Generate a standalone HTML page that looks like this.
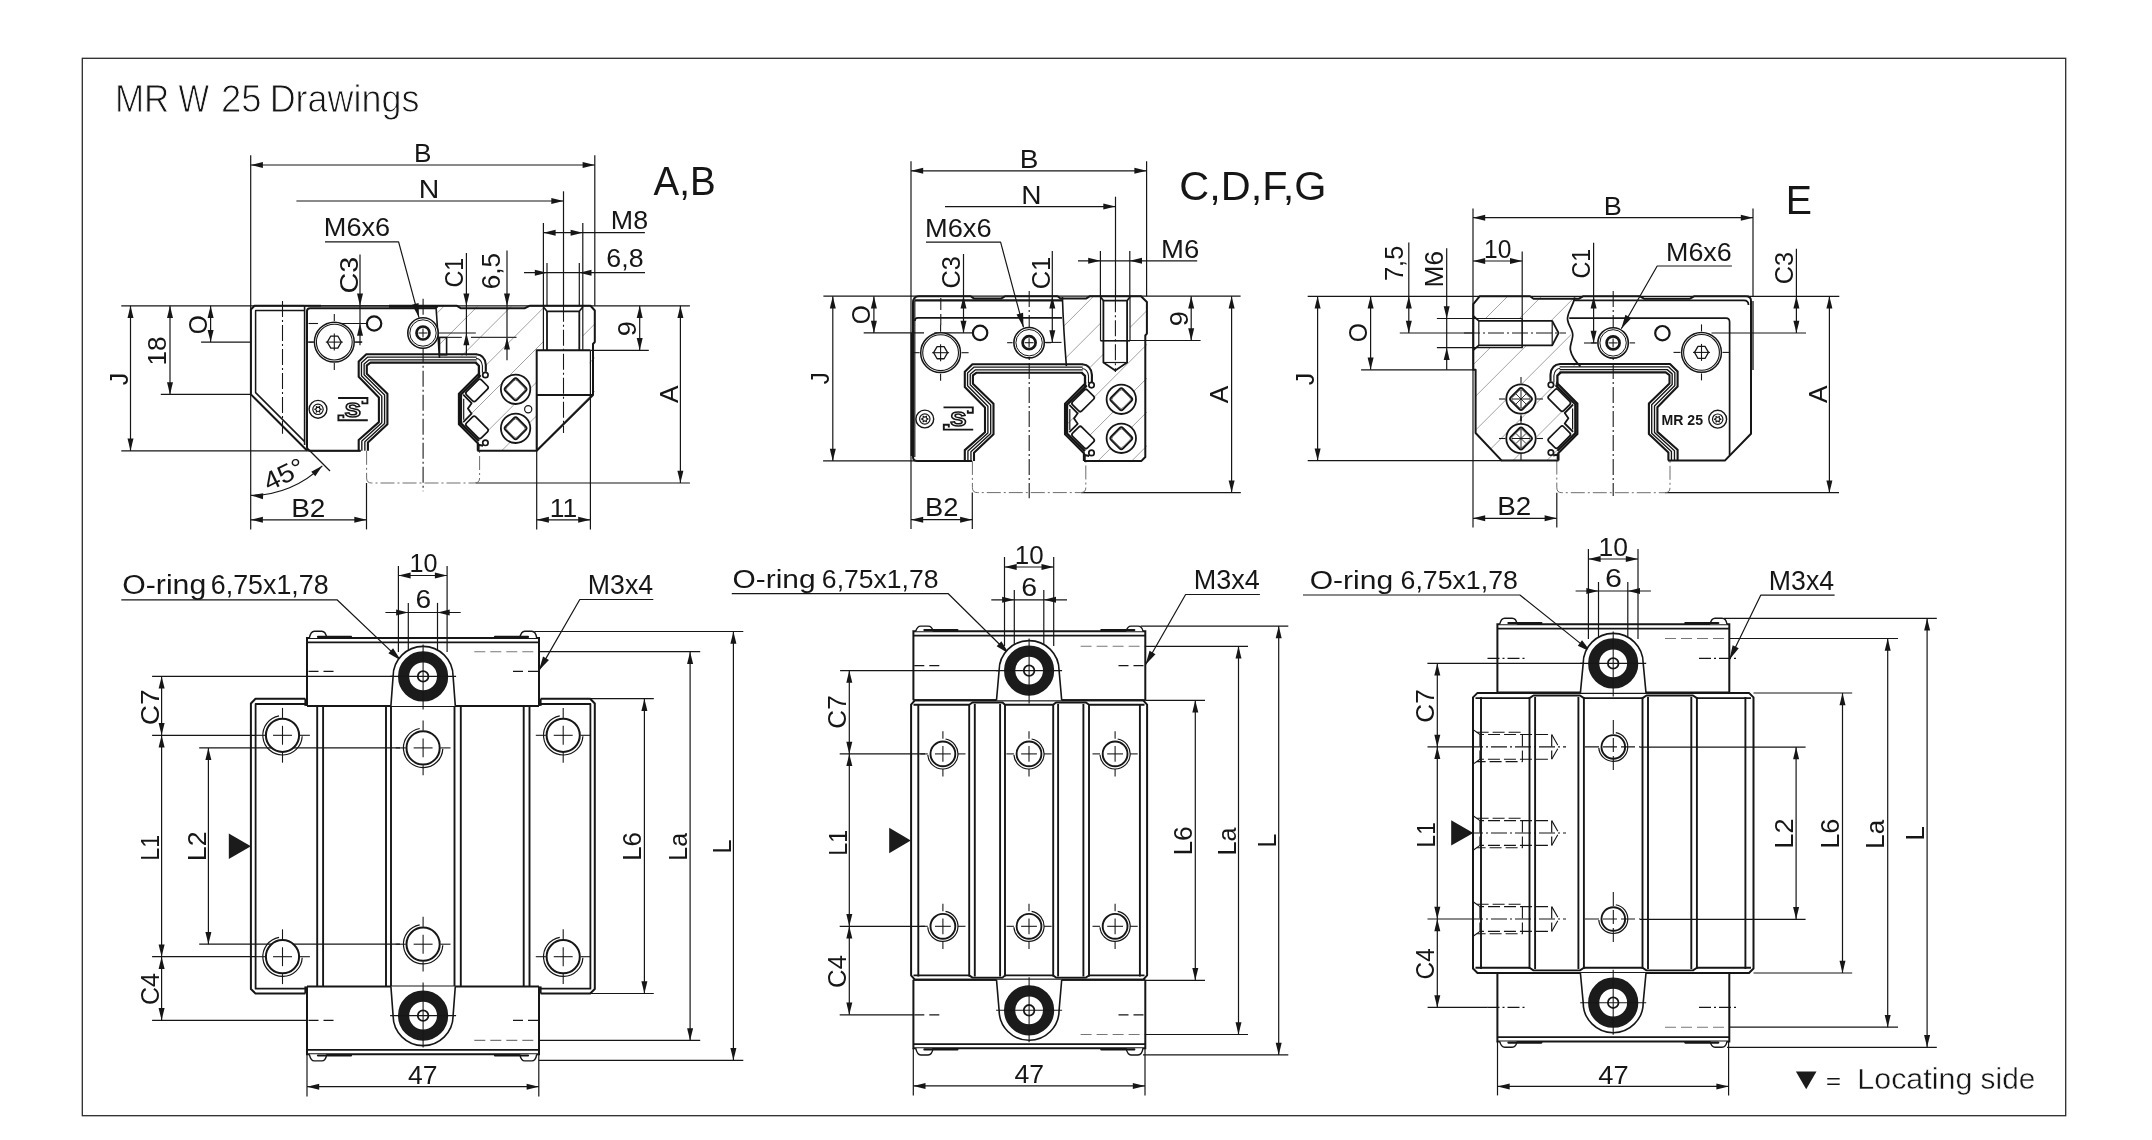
<!DOCTYPE html>
<html lang="en"><head><meta charset="utf-8"><title>MR W 25 Drawings</title>
<style>
html,body{margin:0;padding:0;background:#fff}
svg{display:block;filter:grayscale(1)}
text{font-family:"Liberation Sans",sans-serif;white-space:pre}
</style></head><body>
<svg width="2152" height="1140" viewBox="0 0 2152 1140">
<rect width="2152" height="1140" fill="#fff"/>
<rect x="82.3" y="58.3" width="1983.4" height="1057.4" fill="none" stroke="#2b2b2b" stroke-width="1.3"/>
<text y="111.9" font-size="37.95" fill="#161616" stroke="#fff" stroke-width="0.9"><tspan x="114.9" textLength="54.38" lengthAdjust="spacingAndGlyphs">MR</tspan> <tspan x="178.52" textLength="30.53" lengthAdjust="spacingAndGlyphs">W</tspan> <tspan x="221.08" textLength="40.57" lengthAdjust="spacingAndGlyphs">25</tspan> <tspan x="269.63" textLength="149.75" lengthAdjust="spacingAndGlyphs">Drawings</tspan></text>
<g id="d1">
<clipPath id="h1"><path d="M437 306.5 L594.8 306.5 L594.8 395 L536.7 450.8 L478 450.8 L478 443 L459 424 L459 394 L479 374 L486 366 L484 358 L441 355 Z"/></clipPath>
<g clip-path="url(#h1)" stroke="#8a8a8a" stroke-width="0.8">
<line x1="299.4" y1="450.8" x2="444.4" y2="305.8"/>
<line x1="333.1" y1="450.8" x2="478.1" y2="305.8"/>
<line x1="366.8" y1="450.8" x2="511.8" y2="305.8"/>
<line x1="400.5" y1="450.8" x2="545.5" y2="305.8"/>
<line x1="434.2" y1="450.8" x2="579.2" y2="305.8"/>
<line x1="467.9" y1="450.8" x2="612.9" y2="305.8"/>
<line x1="501.6" y1="450.8" x2="646.6" y2="305.8"/>
<line x1="535.3" y1="450.8" x2="680.3" y2="305.8"/>
<line x1="569" y1="450.8" x2="714" y2="305.8"/>
<line x1="602.7" y1="450.8" x2="747.7" y2="305.8"/>
<line x1="636.4" y1="450.8" x2="781.4" y2="305.8"/>
<line x1="670.1" y1="450.8" x2="815.1" y2="305.8"/>
<line x1="703.8" y1="450.8" x2="848.8" y2="305.8"/>
<line x1="737.5" y1="450.8" x2="882.5" y2="305.8"/>
</g>
<rect x="543.4" y="306.5" width="39.4" height="43.8" fill="#fff" stroke="none" stroke-width="0"/>
<rect x="537.5" y="351" width="52" height="43.5" fill="#fff" stroke="none" stroke-width="0"/>
<path d="M537.5 394.5 L591 394.5 L537.5 448 Z" fill="#fff" stroke="none" stroke-width="0" stroke-linejoin="round"/>
<line x1="121.3" y1="305.8" x2="689.9" y2="305.8" stroke="#161616" stroke-width="1.2"/>
<line x1="121.3" y1="450.8" x2="360.7" y2="450.8" stroke="#161616" stroke-width="1.2"/>
<line x1="250.7" y1="155.3" x2="250.7" y2="529.4" stroke="#161616" stroke-width="1.2"/>
<line x1="594.8" y1="155.3" x2="594.8" y2="305.8" stroke="#161616" stroke-width="1.2"/>
<line x1="250.7" y1="165" x2="594.8" y2="165" stroke="#161616" stroke-width="1.2"/>
<path d="M250.7 165 L262.9 162 L262.9 168 Z" fill="#161616"/>
<path d="M594.8 165 L582.6 168 L582.6 162 Z" fill="#161616"/>
<text transform="translate(413.91 162) scale(0.9916 1)" font-size="26.39" fill="#161616">B</text>
<line x1="296.4" y1="201" x2="563.5" y2="201" stroke="#161616" stroke-width="1.2"/>
<path d="M563.5 201 L551.3 204 L551.3 198 Z" fill="#161616"/>
<line x1="563.5" y1="191.3" x2="563.5" y2="305.8" stroke="#161616" stroke-width="1.2"/>
<text transform="translate(418.72 198.3) scale(1.0779 1)" font-size="26.39" fill="#161616">N</text>
<line x1="543.4" y1="223" x2="543.4" y2="305.8" stroke="#161616" stroke-width="1.2"/>
<line x1="582.8" y1="223" x2="582.8" y2="305.8" stroke="#161616" stroke-width="1.2"/>
<line x1="543.4" y1="232.7" x2="644.9" y2="232.7" stroke="#161616" stroke-width="1.2"/>
<path d="M543.4 232.7 L555.6 229.7 L555.6 235.7 Z" fill="#161616"/>
<path d="M582.8 232.7 L570.6 235.7 L570.6 229.7 Z" fill="#161616"/>
<text transform="translate(610.85 229.4) scale(1.0165 1)" font-size="26.39" fill="#161616">M8</text>
<line x1="547" y1="263" x2="547" y2="305.8" stroke="#161616" stroke-width="1.2"/>
<line x1="579.3" y1="263" x2="579.3" y2="305.8" stroke="#161616" stroke-width="1.2"/>
<line x1="524" y1="272.7" x2="645" y2="272.7" stroke="#161616" stroke-width="1.2"/>
<path d="M547 272.7 L534.8 275.7 L534.8 269.7 Z" fill="#161616"/>
<path d="M579.3 272.7 L591.5 269.7 L591.5 275.7 Z" fill="#161616"/>
<text transform="translate(606.36 266.6) scale(1.0144 1)" font-size="26.39" fill="#161616">6,8</text>
<line x1="360" y1="254.5" x2="360" y2="345.3" stroke="#161616" stroke-width="1.2"/>
<path d="M360 305.8 L357 293.6 L363 293.6 Z" fill="#161616"/>
<path d="M360 323.5 L363 335.7 L357 335.7 Z" fill="#161616"/>
<line x1="308.5" y1="323.5" x2="318" y2="323.5" stroke="#161616" stroke-width="1.08"/>
<line x1="327.5" y1="323.5" x2="366.5" y2="323.5" stroke="#161616" stroke-width="1.08"/>
<line x1="308.5" y1="342.1" x2="318" y2="342.1" stroke="#161616" stroke-width="1.08"/>
<line x1="353" y1="342.1" x2="362" y2="342.1" stroke="#161616" stroke-width="1.08"/>
<text transform="translate(357.5 293.43) rotate(-90) scale(1.0872 1)" font-size="26.39" fill="#161616">C3</text>
<line x1="466.4" y1="253" x2="466.4" y2="355.6" stroke="#161616" stroke-width="1.2"/>
<path d="M466.4 305.8 L463.4 293.6 L469.4 293.6 Z" fill="#161616"/>
<path d="M466.4 333 L469.4 345.2 L463.4 345.2 Z" fill="#161616"/>
<line x1="437" y1="333" x2="475.8" y2="333" stroke="#161616" stroke-width="1.08"/>
<text transform="translate(463 287.57) rotate(-90) scale(0.8863 1)" font-size="26.39" fill="#161616">C1</text>
<line x1="507" y1="250.4" x2="507" y2="360.3" stroke="#161616" stroke-width="1.2"/>
<path d="M507 305.8 L504 293.6 L510 293.6 Z" fill="#161616"/>
<path d="M507 337.4 L510 349.6 L504 349.6 Z" fill="#161616"/>
<line x1="447.2" y1="337.4" x2="461.8" y2="337.4" stroke="#333" stroke-width="1.2"/>
<line x1="470.9" y1="337.4" x2="516.5" y2="337.4" stroke="#333" stroke-width="1.2"/>
<text transform="translate(500 289.31) rotate(-90) scale(0.9911 1)" font-size="26.39" fill="#161616">6,5</text>
<text transform="translate(323.83 235.7) scale(1.0279 1)" font-size="26.39" fill="#161616">M6x6</text>
<path d="M325 241.8 L398.6 241.8 L419 317.6" fill="none" stroke="#161616" stroke-width="1.2" stroke-linejoin="round"/>
<path d="M419 317.6 L412.03 304.77 L418.59 303 Z" fill="#161616"/>
<line x1="130.5" y1="305.8" x2="130.5" y2="450.8" stroke="#161616" stroke-width="1.2"/>
<path d="M130.5 305.8 L133.5 318 L127.5 318 Z" fill="#161616"/>
<path d="M130.5 450.8 L127.5 438.6 L133.5 438.6 Z" fill="#161616"/>
<text transform="translate(127.6 385.17) rotate(-90) scale(0.9462 1)" font-size="26.39" fill="#161616">J</text>
<line x1="170" y1="305.8" x2="170" y2="394.4" stroke="#161616" stroke-width="1.2"/>
<path d="M170 305.8 L173 318 L167 318 Z" fill="#161616"/>
<path d="M170 394.4 L167 382.2 L173 382.2 Z" fill="#161616"/>
<line x1="160.8" y1="394.4" x2="250.9" y2="394.4" stroke="#161616" stroke-width="1.2"/>
<text transform="translate(166.4 365.47) rotate(-90) scale(0.9940 1)" font-size="26.39" fill="#161616">18</text>
<line x1="210.6" y1="305.8" x2="210.6" y2="342.1" stroke="#161616" stroke-width="1.2"/>
<path d="M210.6 305.8 L213.6 318 L207.6 318 Z" fill="#161616"/>
<path d="M210.6 342.1 L207.6 329.9 L213.6 329.9 Z" fill="#161616"/>
<line x1="201.1" y1="342.1" x2="250.9" y2="342.1" stroke="#161616" stroke-width="1.2"/>
<text transform="translate(207.4 334.3) rotate(-90) scale(0.9294 1)" font-size="26.39" fill="#161616">O</text>
<line x1="639.7" y1="305.8" x2="639.7" y2="350.3" stroke="#161616" stroke-width="1.2"/>
<path d="M639.7 305.8 L642.7 318 L636.7 318 Z" fill="#161616"/>
<path d="M639.7 350.3 L636.7 338.1 L642.7 338.1 Z" fill="#161616"/>
<line x1="590.4" y1="350.3" x2="648.8" y2="350.3" stroke="#161616" stroke-width="1.2"/>
<text transform="translate(636.2 336.22) rotate(-90) scale(1.0268 1)" font-size="26.39" fill="#161616">9</text>
<line x1="680.4" y1="305.8" x2="680.4" y2="483" stroke="#161616" stroke-width="1.2"/>
<path d="M680.4 305.8 L683.4 318 L677.4 318 Z" fill="#161616"/>
<path d="M680.4 483 L677.4 470.8 L683.4 470.8 Z" fill="#161616"/>
<line x1="475.6" y1="483" x2="689.9" y2="483" stroke="#161616" stroke-width="1.2"/>
<text transform="translate(678 403) rotate(-90) scale(0.9915 1)" font-size="26.39" fill="#161616">A</text>
<line x1="366.5" y1="483" x2="366.5" y2="529.4" stroke="#161616" stroke-width="1.2"/>
<line x1="250.7" y1="519.8" x2="366.5" y2="519.8" stroke="#161616" stroke-width="1.2"/>
<path d="M250.7 519.8 L262.9 516.8 L262.9 522.8 Z" fill="#161616"/>
<path d="M366.5 519.8 L354.3 522.8 L354.3 516.8 Z" fill="#161616"/>
<text transform="translate(291.16 517.1) scale(1.0624 1)" font-size="26.39" fill="#161616">B2</text>
<line x1="536.7" y1="395" x2="536.7" y2="529.4" stroke="#161616" stroke-width="1.2"/>
<line x1="590.4" y1="395" x2="590.4" y2="529.4" stroke="#161616" stroke-width="1.2"/>
<line x1="536.7" y1="519.8" x2="590.4" y2="519.8" stroke="#161616" stroke-width="1.2"/>
<path d="M536.7 519.8 L548.9 516.8 L548.9 522.8 Z" fill="#161616"/>
<path d="M590.4 519.8 L578.2 522.8 L578.2 516.8 Z" fill="#161616"/>
<text transform="translate(549.82 517.1) scale(1.0022 1)" font-size="26.39" fill="#161616">11</text>
<path d="M250.9 495.4 A101 101 0 0 0 322.32 465.82" fill="none" stroke="#161616" stroke-width="1.2" stroke-linejoin="round"/>
<path d="M250.9 495.4 L263.26 493.14 L262.9 499.13 Z" fill="#161616"/>
<path d="M322.32 465.82 L315.29 476.23 L311.26 471.78 Z" fill="#161616"/>
<line x1="307" y1="448" x2="330" y2="471" stroke="#161616" stroke-width="1.2"/>
<text transform="translate(283.5 474.5) rotate(-26) scale(1.0812 1) translate(-19.08 8.9)" font-size="25.87" fill="#161616">45°</text>
<text transform="translate(653.5 194.7) scale(0.9660 1)" font-size="39.88" fill="#161616">A,B</text>
<line x1="423.1" y1="298.7" x2="423.1" y2="491.3" stroke="#161616" stroke-width="1.08" stroke-dasharray="16 3 2 3"/>
<line x1="282.5" y1="301" x2="282.5" y2="433.8" stroke="#161616" stroke-width="1.08" stroke-dasharray="16 3 2 3"/>
<line x1="563.5" y1="305.8" x2="563.5" y2="433" stroke="#161616" stroke-width="1.08" stroke-dasharray="16 3 2 3"/>
<path d="M366.6 450.8 L366.6 478 Q366.6 483 371.6 483 L474.6 483 Q479.6 483 479.6 478 L479.6 450.8" fill="none" stroke="#666" stroke-width="0.96" stroke-linejoin="round" stroke-dasharray="14 3 2 3"/>
<path d="M304.6 305.8 L254.5 305.8 L250.9 309.5 L250.9 394.4 L307 450.5" fill="none" stroke="#161616" stroke-width="2" stroke-linejoin="round"/>
<path d="M304.6 310.5 L255.6 310.5 L255.6 392.6 L304.6 441.6" fill="none" stroke="#161616" stroke-width="1.5" stroke-linejoin="round"/>
<line x1="304.6" y1="305.8" x2="304.6" y2="445" stroke="#161616" stroke-width="1.6"/>
<path d="M436.5 308.2 L310 308.2 Q307 308.2 307 311 L307 447 Q307 450.8 311 450.8 L360.7 450.8" fill="none" stroke="#161616" stroke-width="2" stroke-linejoin="round"/>
<line x1="304.6" y1="305.8" x2="321" y2="305.8" stroke="#161616" stroke-width="2"/>
<line x1="321" y1="305.8" x2="389" y2="305.8" stroke="#161616" stroke-width="1.2"/>
<line x1="389" y1="306.2" x2="438" y2="306.2" stroke="#161616" stroke-width="3"/>
<path d="M438 305.8 L457 305.8 L461 308.3 L524.5 308.3 L529.5 305.8 L590.5 305.8 L594.8 310.5 L594.8 342 L593 344 L593 395 L536.7 450.8 L477.4 450.8" fill="none" stroke="#161616" stroke-width="2" stroke-linejoin="round"/>
<line x1="590.4" y1="350.3" x2="590.4" y2="395" stroke="#161616" stroke-width="1.2"/>
<path d="M436 306.5 Q437.5 330 439.5 358" fill="none" stroke="#161616" stroke-width="1.6" stroke-linejoin="round"/>
<rect x="439.5" y="337.4" width="7.1" height="17.4" fill="none" stroke="#161616" stroke-width="1.6"/>
<line x1="543.4" y1="305.8" x2="543.4" y2="350.3" stroke="#161616" stroke-width="1.2"/>
<line x1="582.8" y1="305.8" x2="582.8" y2="350.3" stroke="#161616" stroke-width="1.2"/>
<line x1="547" y1="311.3" x2="547" y2="350.3" stroke="#161616" stroke-width="1.8"/>
<line x1="579.3" y1="311.3" x2="579.3" y2="350.3" stroke="#161616" stroke-width="1.8"/>
<path d="M543.4 307 L547 311.3 L579.3 311.3 L582.8 307" fill="none" stroke="#161616" stroke-width="1.7" stroke-linejoin="round"/>
<path d="M590.4 350.3 L536.7 350.3 L536.7 450.8" fill="none" stroke="#161616" stroke-width="2" stroke-linejoin="round"/>
<line x1="536.7" y1="395" x2="593" y2="395" stroke="#161616" stroke-width="2"/>
<path d="M476.6 354.2 L366.3 354.2 L358.7 361.6 L358.7 376.8 L378.9 397.4 L378.9 422.1 L358.7 440 L358.7 450.8" fill="none" stroke="#161616" stroke-width="2.1" stroke-linejoin="round"/>
<path d="M476.6 357.06 L367.73 357.06 L361.45 362.86 L361.45 375.75 L381.79 396.14 L381.79 422.81 L361.83 440.88 L361.83 450.8" fill="none" stroke="#161616" stroke-width="1.35" stroke-linejoin="round"/>
<path d="M476.6 359.83 L369.11 359.83 L364.13 364.08 L364.13 374.72 L384.6 394.92 L384.6 423.51 L364.86 441.74 L364.86 450.8" fill="none" stroke="#161616" stroke-width="1.35" stroke-linejoin="round"/>
<path d="M476.6 362.6 L370.5 362.6 L366.8 365.3 L366.8 373.7 L387.4 393.7 L387.4 424.2 L367.9 442.6 L367.9 450.8" fill="none" stroke="#161616" stroke-width="2.1" stroke-linejoin="round"/>
<path d="M475.7 362.6 L478.9 365.8 L478.9 373.7 L459 393.7 L459 424.2 L477.9 443.2 L477.9 450.8" fill="none" stroke="#161616" stroke-width="2.3" stroke-linejoin="round"/>
<path d="M480.7 375.3 L461 394.5 L461 423.4 L478.9 441" fill="none" stroke="#161616" stroke-width="2.2" stroke-linejoin="round"/>
<path d="M463.7 398.8 L463.7 419.8" fill="none" stroke="#161616" stroke-width="1.2" stroke-linejoin="round"/>
<path d="M476.1 354.2 Q485.1 354.8 485.8 364.8 L485.8 371.8" fill="none" stroke="#161616" stroke-width="2.1" stroke-linejoin="round"/>
<path d="M476.1 358.4 Q481.5 358.8 482.4 365.8 L482.4 372.8" fill="none" stroke="#161616" stroke-width="1.1" stroke-linejoin="round"/>
<circle cx="485.4" cy="375" r="2.7" fill="none" stroke="#161616" stroke-width="1.7"/>
<circle cx="485.4" cy="442.8" r="2.7" fill="none" stroke="#161616" stroke-width="1.7"/>
<line x1="479.1" y1="371.8" x2="479.1" y2="377.8" stroke="#161616" stroke-width="2"/>
<path d="M478.6 449.8 L478.6 444.8 L483.1 445.8" fill="none" stroke="#161616" stroke-width="2" stroke-linejoin="round"/>
<rect x="-10.5" y="-6.5" width="21" height="13" fill="#fff" stroke="#161616" stroke-width="1.7" rx="2.2" transform="translate(477 390.4) rotate(-45)"/>
<rect x="-10.5" y="-6.5" width="21" height="13" fill="#fff" stroke="#161616" stroke-width="1.7" rx="2.2" transform="translate(477 427.4) rotate(45)"/>
<path d="M463.2 394.7 L471.6 403.2 L467.9 408.4 L471.6 413.7 L463.2 422.1" fill="none" stroke="#161616" stroke-width="1.8" stroke-linejoin="round"/>
<circle cx="334.3" cy="342.1" r="19.9" fill="#fff" stroke="#161616" stroke-width="1.5"/>
<circle cx="334.3" cy="342.1" r="17.9" fill="none" stroke="#161616" stroke-width="1.1"/>
<path d="M341.3 342.1 L337.8 348.16 L330.8 348.16 L327.3 342.1 L330.8 336.04 L337.8 336.04 Z" fill="none" stroke="#161616" stroke-width="1.3" stroke-linejoin="round"/>
<line x1="334.3" y1="314.1" x2="334.3" y2="321.1" stroke="#161616" stroke-width="1.08"/>
<line x1="334.3" y1="363.1" x2="334.3" y2="370.1" stroke="#161616" stroke-width="1.08"/>
<line x1="306.3" y1="342.1" x2="313.3" y2="342.1" stroke="#161616" stroke-width="1.08"/>
<line x1="355.3" y1="342.1" x2="362.3" y2="342.1" stroke="#161616" stroke-width="1.08"/>
<line x1="334.3" y1="333.6" x2="334.3" y2="350.6" stroke="#161616" stroke-width="1.08"/>
<line x1="325.8" y1="342.1" x2="342.8" y2="342.1" stroke="#161616" stroke-width="1.08"/>
<circle cx="374.1" cy="323.5" r="7.2" fill="#fff" stroke="#161616" stroke-width="2.2"/>
<circle cx="423" cy="333" r="15.2" fill="#fff" stroke="#161616" stroke-width="1.6"/>
<circle cx="423" cy="333" r="13.2" fill="none" stroke="#161616" stroke-width="1"/>
<circle cx="423" cy="333" r="6.5" fill="none" stroke="#161616" stroke-width="2.7"/>
<line x1="418.5" y1="333" x2="427.5" y2="333" stroke="#161616" stroke-width="1.08"/>
<line x1="423" y1="328.5" x2="423" y2="337.5" stroke="#161616" stroke-width="1.08"/>
<circle cx="318" cy="409.3" r="8.9" fill="#fff" stroke="#161616" stroke-width="1.4"/>
<circle cx="318" cy="409.3" r="5.2" fill="none" stroke="#161616" stroke-width="1.2"/>
<path d="M321.3 409.3 L319.56 410.2 L319.65 412.16 L318 411.1 L316.35 412.16 L316.44 410.2 L314.7 409.3 L316.44 408.4 L316.35 406.44 L318 407.5 L319.65 406.44 L319.56 408.4 Z" fill="none" stroke="#161616" stroke-width="1.08" stroke-linejoin="round"/>
<path d="M338.1 398 L367.4 398 L367.4 403.4 L362.4 403.4 L362.4 400.8" fill="none" stroke="#161616" stroke-width="1.9" stroke-linejoin="miter"/>
<path d="M367.8 420.2 L338.4 420.2 L338.4 415.4 L343.4 415.4 L343.4 418.2" fill="none" stroke="#161616" stroke-width="1.9" stroke-linejoin="miter"/>
<text transform="translate(344.73 416.6) scale(1.1578 1)" font-size="20.93" font-weight="bold" fill="#fff" stroke="#161616" stroke-width="1.5">S</text>
<circle cx="515.6" cy="389.3" r="14.7" fill="#fff" stroke="#161616" stroke-width="1.8"/>
<rect x="-8.4" y="-8.4" width="16.8" height="16.8" fill="none" stroke="#161616" stroke-width="1.9" rx="2.6" transform="translate(515.6 389.3) rotate(45)"/>
<rect x="-7.2" y="-7.2" width="14.4" height="14.4" fill="none" stroke="#444" stroke-width="0.7" rx="2.2" transform="translate(515.6 389.3) rotate(45)"/>
<circle cx="515.6" cy="428.3" r="14.7" fill="#fff" stroke="#161616" stroke-width="1.8"/>
<rect x="-8.4" y="-8.4" width="16.8" height="16.8" fill="none" stroke="#161616" stroke-width="1.9" rx="2.6" transform="translate(515.6 428.3) rotate(45)"/>
<rect x="-7.2" y="-7.2" width="14.4" height="14.4" fill="none" stroke="#444" stroke-width="0.7" rx="2.2" transform="translate(515.6 428.3) rotate(45)"/>
<circle cx="528.2" cy="409.2" r="3.6" fill="#fff" stroke="#161616" stroke-width="1.2"/>
</g>
<g id="d2">
<clipPath id="h2"><path d="M1062.5 297 L1146.9 297 L1146.9 460.9 L1084 460.9 L1084 453 L1065.1 434 L1065.1 404 L1085 384 L1092 376 L1090 368 L1066.4 366 Z"/></clipPath>
<g clip-path="url(#h2)" stroke="#8a8a8a" stroke-width="0.8">
<line x1="895.2" y1="460.9" x2="1059.9" y2="296.2"/>
<line x1="929" y1="460.9" x2="1093.7" y2="296.2"/>
<line x1="962.8" y1="460.9" x2="1127.5" y2="296.2"/>
<line x1="996.6" y1="460.9" x2="1161.3" y2="296.2"/>
<line x1="1030.4" y1="460.9" x2="1195.1" y2="296.2"/>
<line x1="1064.2" y1="460.9" x2="1228.9" y2="296.2"/>
<line x1="1098" y1="460.9" x2="1262.7" y2="296.2"/>
<line x1="1131.8" y1="460.9" x2="1296.5" y2="296.2"/>
<line x1="1165.6" y1="460.9" x2="1330.3" y2="296.2"/>
<line x1="1199.4" y1="460.9" x2="1364.1" y2="296.2"/>
<line x1="1233.2" y1="460.9" x2="1397.9" y2="296.2"/>
<line x1="1267" y1="460.9" x2="1431.7" y2="296.2"/>
<line x1="1300.8" y1="460.9" x2="1465.5" y2="296.2"/>
</g>
<path d="M1100.5 297 L1130 297 L1130 340.8 L1127.1 340.8 L1127.1 362.5 L1115.3 370.4 L1103.4 362.5 L1103.4 340.8 L1100.5 340.8 Z" fill="#fff" stroke="none" stroke-width="0" stroke-linejoin="round"/>
<line x1="823.4" y1="296.2" x2="1240.6" y2="296.2" stroke="#161616" stroke-width="1.2"/>
<line x1="823.1" y1="460.9" x2="972" y2="460.9" stroke="#161616" stroke-width="1.2"/>
<line x1="911" y1="161.3" x2="911" y2="528.9" stroke="#161616" stroke-width="1.2"/>
<line x1="1146.6" y1="161.3" x2="1146.6" y2="296.2" stroke="#161616" stroke-width="1.2"/>
<line x1="911" y1="170.8" x2="1146.6" y2="170.8" stroke="#161616" stroke-width="1.2"/>
<path d="M911 170.8 L923.2 167.8 L923.2 173.8 Z" fill="#161616"/>
<path d="M1146.6 170.8 L1134.4 173.8 L1134.4 167.8 Z" fill="#161616"/>
<text transform="translate(1019.76 168.3) scale(1.0624 1)" font-size="26.39" fill="#161616">B</text>
<line x1="945" y1="206.6" x2="1115.5" y2="206.6" stroke="#161616" stroke-width="1.2"/>
<path d="M1115.5 206.6 L1103.3 209.6 L1103.3 203.6 Z" fill="#161616"/>
<line x1="1115.5" y1="196.7" x2="1115.5" y2="296.2" stroke="#161616" stroke-width="1.2"/>
<text transform="translate(1021.25 204.2) scale(1.0644 1)" font-size="26.39" fill="#161616">N</text>
<text transform="translate(925.02 237.3) scale(1.0312 1)" font-size="26.39" fill="#161616">M6x6</text>
<path d="M926 242.2 L1000.6 242.2 L1023.5 327.4" fill="none" stroke="#161616" stroke-width="1.2" stroke-linejoin="round"/>
<path d="M1023.5 327.4 L1016.53 314.57 L1023.1 312.8 Z" fill="#161616"/>
<line x1="963.5" y1="254" x2="963.5" y2="332.9" stroke="#161616" stroke-width="1.2"/>
<path d="M963.5 296.2 L966.5 308.4 L960.5 308.4 Z" fill="#161616"/>
<path d="M963.5 332.9 L960.5 320.7 L966.5 320.7 Z" fill="#161616"/>
<line x1="934.3" y1="332.9" x2="972.2" y2="332.9" stroke="#161616" stroke-width="1.08"/>
<text transform="translate(960.3 288.47) rotate(-90) scale(0.9593 1)" font-size="26.39" fill="#161616">C3</text>
<line x1="1052.3" y1="250.9" x2="1052.3" y2="342.4" stroke="#161616" stroke-width="1.2"/>
<path d="M1052.3 296.2 L1055.3 308.4 L1049.3 308.4 Z" fill="#161616"/>
<path d="M1052.3 342.4 L1049.3 330.2 L1055.3 330.2 Z" fill="#161616"/>
<line x1="1044.9" y1="342.4" x2="1061.5" y2="342.4" stroke="#161616" stroke-width="1.08"/>
<text transform="translate(1049.6 289.27) rotate(-90) scale(0.9634 1)" font-size="26.39" fill="#161616">C1</text>
<line x1="1100.4" y1="250.9" x2="1100.4" y2="296.2" stroke="#161616" stroke-width="1.2"/>
<line x1="1129.8" y1="250.9" x2="1129.8" y2="296.2" stroke="#161616" stroke-width="1.2"/>
<line x1="1078" y1="260.8" x2="1197.2" y2="260.8" stroke="#161616" stroke-width="1.2"/>
<path d="M1100.4 260.8 L1088.2 263.8 L1088.2 257.8 Z" fill="#161616"/>
<path d="M1129.8 260.8 L1142 257.8 L1142 263.8 Z" fill="#161616"/>
<text transform="translate(1161 257.9) scale(1.0425 1)" font-size="26.39" fill="#161616">M6</text>
<line x1="832.8" y1="296.2" x2="832.8" y2="460.9" stroke="#161616" stroke-width="1.2"/>
<path d="M832.8 296.2 L835.8 308.4 L829.8 308.4 Z" fill="#161616"/>
<path d="M832.8 460.9 L829.8 448.7 L835.8 448.7 Z" fill="#161616"/>
<text transform="translate(829 384.36) rotate(-90) scale(0.9186 1)" font-size="26.39" fill="#161616">J</text>
<line x1="873.9" y1="296.2" x2="873.9" y2="332.9" stroke="#161616" stroke-width="1.2"/>
<path d="M873.9 296.2 L876.9 308.4 L870.9 308.4 Z" fill="#161616"/>
<path d="M873.9 332.9 L870.9 320.7 L876.9 320.7 Z" fill="#161616"/>
<line x1="863.7" y1="332.9" x2="924" y2="332.9" stroke="#161616" stroke-width="1.2"/>
<text transform="translate(869.5 324.3) rotate(-90) scale(0.9294 1)" font-size="26.39" fill="#161616">O</text>
<line x1="1191.2" y1="296.2" x2="1191.2" y2="340.5" stroke="#161616" stroke-width="1.2"/>
<path d="M1191.2 296.2 L1194.2 308.4 L1188.2 308.4 Z" fill="#161616"/>
<path d="M1191.2 340.5 L1188.2 328.3 L1194.2 328.3 Z" fill="#161616"/>
<line x1="1127" y1="340.5" x2="1200.6" y2="340.5" stroke="#161616" stroke-width="1.2"/>
<text transform="translate(1188 326.22) rotate(-90) scale(1.0268 1)" font-size="26.39" fill="#161616">9</text>
<line x1="1231.6" y1="296.2" x2="1231.6" y2="492.6" stroke="#161616" stroke-width="1.2"/>
<path d="M1231.6 296.2 L1234.6 308.4 L1228.6 308.4 Z" fill="#161616"/>
<path d="M1231.6 492.6 L1228.6 480.4 L1234.6 480.4 Z" fill="#161616"/>
<line x1="1081.1" y1="492.6" x2="1240.8" y2="492.6" stroke="#161616" stroke-width="1.2"/>
<text transform="translate(1228.3 403.2) rotate(-90) scale(0.9915 1)" font-size="26.39" fill="#161616">A</text>
<line x1="972.3" y1="492.6" x2="972.3" y2="528.9" stroke="#161616" stroke-width="1.2"/>
<line x1="911" y1="519.7" x2="972.3" y2="519.7" stroke="#161616" stroke-width="1.2"/>
<path d="M911 519.7 L923.2 516.7 L923.2 522.7 Z" fill="#161616"/>
<path d="M972.3 519.7 L960.1 522.7 L960.1 516.7 Z" fill="#161616"/>
<text transform="translate(925.02 516.1) scale(1.0347 1)" font-size="26.39" fill="#161616">B2</text>
<text transform="translate(1179.33 200.2) scale(1.0124 1)" font-size="40.92" fill="#161616">C,D,F,G</text>
<line x1="1029.2" y1="291" x2="1029.2" y2="498.3" stroke="#161616" stroke-width="1.08" stroke-dasharray="16 3 2 3"/>
<line x1="1115.4" y1="296.2" x2="1115.4" y2="372" stroke="#161616" stroke-width="1.08" stroke-dasharray="16 3 2 3"/>
<line x1="940.8" y1="298" x2="940.8" y2="325" stroke="#161616" stroke-width="1.08" stroke-dasharray="12 4"/>
<path d="M972.4 460.9 L972.4 487.6 Q972.4 492.6 977.4 492.6 L1080.8 492.6 Q1085.8 492.6 1085.8 487.6 L1085.8 460.9" fill="none" stroke="#666" stroke-width="0.96" stroke-linejoin="round" stroke-dasharray="14 3 2 3"/>
<path d="M913 457 L913 303 Q913 296.2 919 296.2 L970.6 296.2 L973.8 298.4 L1001.4 298.4 L1005.4 296.2 L1057.5 296.2 L1060.7 298.6 L1086 298.6 L1090 296.2 L1141 296.2 L1146.9 302 L1146.9 333.7 L1145.3 335.5 L1145.3 457 L1141.5 460.9 L1084 460.9" fill="none" stroke="#161616" stroke-width="2" stroke-linejoin="round"/>
<line x1="911.3" y1="333" x2="911.3" y2="456" stroke="#161616" stroke-width="1.4"/>
<path d="M913 457 Q913 460.9 917 460.9 L972 460.9" fill="none" stroke="#161616" stroke-width="2" stroke-linejoin="round"/>
<line x1="914.8" y1="300.3" x2="1062" y2="300.3" stroke="#161616" stroke-width="2.2"/>
<path d="M1062 317.9 L918 317.9 Q914.8 317.9 914.8 321" fill="none" stroke="#161616" stroke-width="1.7" stroke-linejoin="round"/>
<line x1="914.8" y1="300.3" x2="914.8" y2="457" stroke="#161616" stroke-width="1.2"/>
<path d="M1062.4 297 Q1063.5 330 1066.4 366.1" fill="none" stroke="#161616" stroke-width="1.6" stroke-linejoin="round"/>
<line x1="1100.5" y1="296.2" x2="1100.5" y2="340.8" stroke="#161616" stroke-width="1.2"/>
<line x1="1130" y1="296.2" x2="1130" y2="340.8" stroke="#161616" stroke-width="1.2"/>
<line x1="1100.5" y1="340.8" x2="1130" y2="340.8" stroke="#161616" stroke-width="1.6"/>
<path d="M1100.5 297 L1103.4 300.6 L1127.1 300.6 L1130 297" fill="none" stroke="#161616" stroke-width="1.7" stroke-linejoin="round"/>
<path d="M1103.4 300.6 L1103.4 362.5 L1115.3 370.4 L1127.1 362.5 L1127.1 300.6" fill="none" stroke="#161616" stroke-width="1.8" stroke-linejoin="round"/>
<line x1="1103.4" y1="362.5" x2="1127.1" y2="362.5" stroke="#161616" stroke-width="1.2"/>
<path d="M1082.7 364.3 L972.4 364.3 L964.8 371.7 L964.8 386.9 L985 407.5 L985 432.2 L964.8 450.1 L964.8 460.9" fill="none" stroke="#161616" stroke-width="2.1" stroke-linejoin="round"/>
<path d="M1082.7 367.16 L973.83 367.16 L967.55 372.96 L967.55 385.85 L987.89 406.24 L987.89 432.91 L967.93 450.98 L967.93 460.9" fill="none" stroke="#161616" stroke-width="1.35" stroke-linejoin="round"/>
<path d="M1082.7 369.93 L975.21 369.93 L970.23 374.18 L970.23 384.82 L990.7 405.02 L990.7 433.61 L970.96 451.84 L970.96 460.9" fill="none" stroke="#161616" stroke-width="1.35" stroke-linejoin="round"/>
<path d="M1082.7 372.7 L976.6 372.7 L972.9 375.4 L972.9 383.8 L993.5 403.8 L993.5 434.3 L974 452.7 L974 460.9" fill="none" stroke="#161616" stroke-width="2.1" stroke-linejoin="round"/>
<path d="M1081.8 372.7 L1085 375.9 L1085 383.8 L1065.1 403.8 L1065.1 434.3 L1084 453.3 L1084 460.9" fill="none" stroke="#161616" stroke-width="2.3" stroke-linejoin="round"/>
<path d="M1086.8 385.4 L1067.1 404.6 L1067.1 433.5 L1085 451.1" fill="none" stroke="#161616" stroke-width="2.2" stroke-linejoin="round"/>
<path d="M1069.8 408.9 L1069.8 429.9" fill="none" stroke="#161616" stroke-width="1.2" stroke-linejoin="round"/>
<path d="M1082.2 364.3 Q1091.2 364.9 1091.9 374.9 L1091.9 381.9" fill="none" stroke="#161616" stroke-width="2.1" stroke-linejoin="round"/>
<path d="M1082.2 368.5 Q1087.6 368.9 1088.5 375.9 L1088.5 382.9" fill="none" stroke="#161616" stroke-width="1.1" stroke-linejoin="round"/>
<circle cx="1091.5" cy="385.1" r="2.7" fill="none" stroke="#161616" stroke-width="1.7"/>
<circle cx="1091.5" cy="452.9" r="2.7" fill="none" stroke="#161616" stroke-width="1.7"/>
<line x1="1085.2" y1="381.9" x2="1085.2" y2="387.9" stroke="#161616" stroke-width="2"/>
<path d="M1084.7 459.9 L1084.7 454.9 L1089.2 455.9" fill="none" stroke="#161616" stroke-width="2" stroke-linejoin="round"/>
<rect x="-10.5" y="-6.5" width="21" height="13" fill="#fff" stroke="#161616" stroke-width="1.7" rx="2.2" transform="translate(1083.1 400.5) rotate(-45)"/>
<rect x="-10.5" y="-6.5" width="21" height="13" fill="#fff" stroke="#161616" stroke-width="1.7" rx="2.2" transform="translate(1083.1 437.5) rotate(45)"/>
<path d="M1069.3 404.8 L1077.7 413.3 L1074 418.5 L1077.7 423.8 L1069.3 432.2" fill="none" stroke="#161616" stroke-width="1.8" stroke-linejoin="round"/>
<circle cx="940.6" cy="352.7" r="19.9" fill="#fff" stroke="#161616" stroke-width="1.5"/>
<circle cx="940.6" cy="352.7" r="17.9" fill="none" stroke="#161616" stroke-width="1.1"/>
<path d="M947.6 352.7 L944.1 358.76 L937.1 358.76 L933.6 352.7 L937.1 346.64 L944.1 346.64 Z" fill="none" stroke="#161616" stroke-width="1.3" stroke-linejoin="round"/>
<line x1="940.6" y1="324.7" x2="940.6" y2="331.7" stroke="#161616" stroke-width="1.08"/>
<line x1="940.6" y1="373.7" x2="940.6" y2="380.7" stroke="#161616" stroke-width="1.08"/>
<line x1="912.6" y1="352.7" x2="919.6" y2="352.7" stroke="#161616" stroke-width="1.08"/>
<line x1="961.6" y1="352.7" x2="968.6" y2="352.7" stroke="#161616" stroke-width="1.08"/>
<line x1="940.6" y1="344.2" x2="940.6" y2="361.2" stroke="#161616" stroke-width="1.08"/>
<line x1="932.1" y1="352.7" x2="949.1" y2="352.7" stroke="#161616" stroke-width="1.08"/>
<circle cx="980.1" cy="332.9" r="7.2" fill="#fff" stroke="#161616" stroke-width="2.2"/>
<circle cx="1029.1" cy="342.7" r="15.2" fill="#fff" stroke="#161616" stroke-width="1.6"/>
<circle cx="1029.1" cy="342.7" r="13.2" fill="none" stroke="#161616" stroke-width="1"/>
<circle cx="1029.1" cy="342.7" r="6.5" fill="none" stroke="#161616" stroke-width="2.7"/>
<line x1="1024.6" y1="342.7" x2="1033.6" y2="342.7" stroke="#161616" stroke-width="1.08"/>
<line x1="1029.1" y1="338.2" x2="1029.1" y2="347.2" stroke="#161616" stroke-width="1.08"/>
<line x1="1007.1" y1="342.7" x2="1012.6" y2="342.7" stroke="#161616" stroke-width="1.08"/>
<line x1="1045.6" y1="342.7" x2="1051.1" y2="342.7" stroke="#161616" stroke-width="1.08"/>
<circle cx="924.8" cy="419" r="8.9" fill="#fff" stroke="#161616" stroke-width="1.4"/>
<circle cx="924.8" cy="419" r="5.2" fill="none" stroke="#161616" stroke-width="1.2"/>
<path d="M928.1 419 L926.36 419.9 L926.45 421.86 L924.8 420.8 L923.15 421.86 L923.24 419.9 L921.5 419 L923.24 418.1 L923.15 416.14 L924.8 417.2 L926.45 416.14 L926.36 418.1 Z" fill="none" stroke="#161616" stroke-width="1.08" stroke-linejoin="round"/>
<path d="M943.5 407.4 L972.8 407.4 L972.8 412.8 L967.8 412.8 L967.8 410.2" fill="none" stroke="#161616" stroke-width="1.9" stroke-linejoin="miter"/>
<path d="M973.2 429.6 L943.8 429.6 L943.8 424.8 L948.8 424.8 L948.8 427.6" fill="none" stroke="#161616" stroke-width="1.9" stroke-linejoin="miter"/>
<text transform="translate(950.13 426) scale(1.1578 1)" font-size="20.93" font-weight="bold" fill="#fff" stroke="#161616" stroke-width="1.5">S</text>
<circle cx="1121.3" cy="399.3" r="14.7" fill="#fff" stroke="#161616" stroke-width="1.8"/>
<rect x="-8.4" y="-8.4" width="16.8" height="16.8" fill="none" stroke="#161616" stroke-width="1.9" rx="2.6" transform="translate(1121.3 399.3) rotate(45)"/>
<rect x="-7.2" y="-7.2" width="14.4" height="14.4" fill="none" stroke="#444" stroke-width="0.7" rx="2.2" transform="translate(1121.3 399.3) rotate(45)"/>
<circle cx="1121.3" cy="438.3" r="14.7" fill="#fff" stroke="#161616" stroke-width="1.8"/>
<rect x="-8.4" y="-8.4" width="16.8" height="16.8" fill="none" stroke="#161616" stroke-width="1.9" rx="2.6" transform="translate(1121.3 438.3) rotate(45)"/>
<rect x="-7.2" y="-7.2" width="14.4" height="14.4" fill="none" stroke="#444" stroke-width="0.7" rx="2.2" transform="translate(1121.3 438.3) rotate(45)"/>
</g>
<g id="d3">
<clipPath id="h3"><path d="M1473.3 304.2 L1479.6 297 L1574.4 297 L1570 321.6 L1572.8 353.2 L1579 366 L1552 368 L1550 376 L1558 386 L1577 404 L1577 434 L1558 453 L1558 460.6 L1501.7 460.6 L1475.6 433 L1475.6 369.8 L1473.3 369.8 Z"/></clipPath>
<g clip-path="url(#h3)" stroke="#8a8a8a" stroke-width="0.8">
<line x1="1309.5" y1="460.6" x2="1473.8" y2="296.3"/>
<line x1="1343.4" y1="460.6" x2="1507.7" y2="296.3"/>
<line x1="1377.3" y1="460.6" x2="1541.6" y2="296.3"/>
<line x1="1411.2" y1="460.6" x2="1575.5" y2="296.3"/>
<line x1="1445.1" y1="460.6" x2="1609.4" y2="296.3"/>
<line x1="1479" y1="460.6" x2="1643.3" y2="296.3"/>
<line x1="1512.9" y1="460.6" x2="1677.2" y2="296.3"/>
<line x1="1546.8" y1="460.6" x2="1711.1" y2="296.3"/>
<line x1="1580.7" y1="460.6" x2="1745" y2="296.3"/>
<line x1="1614.6" y1="460.6" x2="1778.9" y2="296.3"/>
<line x1="1648.5" y1="460.6" x2="1812.8" y2="296.3"/>
<line x1="1682.4" y1="460.6" x2="1846.7" y2="296.3"/>
<line x1="1716.3" y1="460.6" x2="1880.6" y2="296.3"/>
</g>
<path d="M1473.3 318.5 L1522.2 318.5 L1522.2 320.9 L1552.2 320.9 L1558.6 333 L1552.2 345.4 L1522.2 345.4 L1522.2 347.7 L1473.3 347.7 Z" fill="#fff" stroke="none" stroke-width="0" stroke-linejoin="round"/>
<line x1="1307.7" y1="296.3" x2="1839.3" y2="296.3" stroke="#161616" stroke-width="1.2"/>
<line x1="1307.7" y1="460.6" x2="1501.7" y2="460.6" stroke="#161616" stroke-width="1.2"/>
<line x1="1317.6" y1="296.3" x2="1317.6" y2="460.6" stroke="#161616" stroke-width="1.2"/>
<path d="M1317.6 296.3 L1320.6 308.5 L1314.6 308.5 Z" fill="#161616"/>
<path d="M1317.6 460.6 L1314.6 448.4 L1320.6 448.4 Z" fill="#161616"/>
<text transform="translate(1313.7 385.17) rotate(-90) scale(0.9462 1)" font-size="26.39" fill="#161616">J</text>
<line x1="1370.6" y1="296.3" x2="1370.6" y2="369.8" stroke="#161616" stroke-width="1.2"/>
<path d="M1370.6 296.3 L1373.6 308.5 L1367.6 308.5 Z" fill="#161616"/>
<path d="M1370.6 369.8 L1367.6 357.6 L1373.6 357.6 Z" fill="#161616"/>
<line x1="1361.1" y1="369.8" x2="1473.3" y2="369.8" stroke="#161616" stroke-width="1.2"/>
<text transform="translate(1367.4 342.31) rotate(-90) scale(0.9349 1)" font-size="26.39" fill="#161616">O</text>
<line x1="1408.8" y1="242.4" x2="1408.8" y2="333" stroke="#161616" stroke-width="1.2"/>
<path d="M1408.8 296.3 L1411.8 308.5 L1405.8 308.5 Z" fill="#161616"/>
<path d="M1408.8 333 L1405.8 320.8 L1411.8 320.8 Z" fill="#161616"/>
<line x1="1399.8" y1="333" x2="1473" y2="333" stroke="#161616" stroke-width="1.2"/>
<text transform="translate(1403 281.08) rotate(-90) scale(0.9677 1)" font-size="26.39" fill="#161616">7,5</text>
<line x1="1446.7" y1="248.2" x2="1446.7" y2="369.8" stroke="#161616" stroke-width="1.2"/>
<path d="M1446.7 318.5 L1443.7 306.3 L1449.7 306.3 Z" fill="#161616"/>
<path d="M1446.7 347.7 L1449.7 359.9 L1443.7 359.9 Z" fill="#161616"/>
<line x1="1436.9" y1="318.5" x2="1473" y2="318.5" stroke="#161616" stroke-width="1.2"/>
<line x1="1436.9" y1="347.7" x2="1473" y2="347.7" stroke="#161616" stroke-width="1.2"/>
<text transform="translate(1443.2 287.4) rotate(-90) scale(0.9945 1)" font-size="26.39" fill="#161616">M6</text>
<line x1="1473" y1="208.4" x2="1473" y2="527.5" stroke="#161616" stroke-width="1.2"/>
<line x1="1753" y1="208.4" x2="1753" y2="296.3" stroke="#161616" stroke-width="1.2"/>
<line x1="1473" y1="217.7" x2="1753" y2="217.7" stroke="#161616" stroke-width="1.2"/>
<path d="M1473 217.7 L1485.2 214.7 L1485.2 220.7 Z" fill="#161616"/>
<path d="M1753 217.7 L1740.8 220.7 L1740.8 214.7 Z" fill="#161616"/>
<text transform="translate(1603.83 215.2) scale(1.0270 1)" font-size="26.39" fill="#161616">B</text>
<line x1="1522.2" y1="251.4" x2="1522.2" y2="347.7" stroke="#161616" stroke-width="1.2"/>
<line x1="1473" y1="261" x2="1522.2" y2="261" stroke="#161616" stroke-width="1.2"/>
<path d="M1473 261 L1485.2 258 L1485.2 264 Z" fill="#161616"/>
<path d="M1522.2 261 L1510 264 L1510 258 Z" fill="#161616"/>
<text transform="translate(1484.06 257.6) scale(0.9307 1)" font-size="26.39" fill="#161616">10</text>
<line x1="1593.6" y1="242.7" x2="1593.6" y2="343" stroke="#161616" stroke-width="1.2"/>
<path d="M1593.6 296.3 L1596.6 308.5 L1590.6 308.5 Z" fill="#161616"/>
<path d="M1593.6 343 L1590.6 330.8 L1596.6 330.8 Z" fill="#161616"/>
<line x1="1584" y1="343" x2="1597" y2="343" stroke="#161616" stroke-width="1.08"/>
<text transform="translate(1590.2 278.57) rotate(-90) scale(0.8863 1)" font-size="26.39" fill="#161616">C1</text>
<text transform="translate(1666.05 261.1) scale(1.0181 1)" font-size="26.39" fill="#161616">M6x6</text>
<path d="M1731.9 266 L1657.2 266 L1621.3 328.8" fill="none" stroke="#161616" stroke-width="1.2" stroke-linejoin="round"/>
<path d="M1621.3 328.8 L1625.4 314.78 L1631.3 318.16 Z" fill="#161616"/>
<line x1="1796.4" y1="248.7" x2="1796.4" y2="333" stroke="#161616" stroke-width="1.2"/>
<path d="M1796.4 296.3 L1799.4 308.5 L1793.4 308.5 Z" fill="#161616"/>
<path d="M1796.4 333 L1793.4 320.8 L1799.4 320.8 Z" fill="#161616"/>
<line x1="1711.5" y1="333" x2="1806" y2="333" stroke="#161616" stroke-width="1.08"/>
<text transform="translate(1793 284.27) rotate(-90) scale(0.9625 1)" font-size="26.39" fill="#161616">C3</text>
<line x1="1829.4" y1="296.3" x2="1829.4" y2="492.7" stroke="#161616" stroke-width="1.2"/>
<path d="M1829.4 296.3 L1832.4 308.5 L1826.4 308.5 Z" fill="#161616"/>
<path d="M1829.4 492.7 L1826.4 480.5 L1832.4 480.5 Z" fill="#161616"/>
<line x1="1665" y1="492.7" x2="1839" y2="492.7" stroke="#161616" stroke-width="1.2"/>
<text transform="translate(1826.7 403) rotate(-90) scale(0.9915 1)" font-size="26.39" fill="#161616">A</text>
<line x1="1556.8" y1="492.7" x2="1556.8" y2="527.5" stroke="#161616" stroke-width="1.2"/>
<line x1="1473" y1="518.3" x2="1556.8" y2="518.3" stroke="#161616" stroke-width="1.2"/>
<path d="M1473 518.3 L1485.2 515.3 L1485.2 521.3 Z" fill="#161616"/>
<path d="M1556.8 518.3 L1544.6 521.3 L1544.6 515.3 Z" fill="#161616"/>
<text transform="translate(1497.27 514.7) scale(1.0555 1)" font-size="26.39" fill="#161616">B2</text>
<text transform="translate(1785.86 214.1) scale(0.9596 1)" font-size="40.92" fill="#161616">E</text>
<line x1="1613.2" y1="291" x2="1613.2" y2="495.9" stroke="#161616" stroke-width="1.08" stroke-dasharray="16 3 2 3"/>
<line x1="1464" y1="333" x2="1566" y2="333" stroke="#161616" stroke-width="1.08" stroke-dasharray="16 3 2 3"/>
<path d="M1556.8 460.6 L1556.8 487.7 Q1556.8 492.7 1561.8 492.7 L1665 492.7 Q1670 492.7 1670 487.7 L1670 460.6" fill="none" stroke="#666" stroke-width="0.96" stroke-linejoin="round" stroke-dasharray="14 3 2 3"/>
<path d="M1558.6 460.6 L1501.7 460.6 L1475.6 433 L1475.6 369.8 L1473.3 369.8 L1473.3 304.2 L1479.6 296.3 L1530 296.3 L1533.5 298.7 L1579 298.7 L1583 296.3 L1640 296.3 L1644 298.7 L1690 298.7 L1694 296.3 L1746 296.3 Q1751 296.3 1751 301 L1751 433.8 L1724.8 460.6 L1668 460.6" fill="none" stroke="#161616" stroke-width="2" stroke-linejoin="round"/>
<line x1="1753" y1="301" x2="1753" y2="370" stroke="#161616" stroke-width="1.3"/>
<path d="M1574 300.3 L1744 300.3 Q1748.5 300.3 1748.5 305" fill="none" stroke="#161616" stroke-width="1.7" stroke-linejoin="round"/>
<path d="M1569.2 318.1 L1726 318.1 Q1729.6 318.1 1729.6 322 L1729.6 455" fill="none" stroke="#161616" stroke-width="1.7" stroke-linejoin="round"/>
<path d="M1574.8 297.5 C1572.5 308 1566.5 313 1567.6 320 C1568.7 327 1573.5 330 1572.7 336 C1572 342 1569.5 346 1570.4 350 C1571.3 355 1575 361 1580.5 366.5" fill="none" stroke="#161616" stroke-width="1.7" stroke-linejoin="round"/>
<path d="M1473.3 318.5 L1522.2 318.5 L1522.2 347.7 L1473.3 347.7" fill="none" stroke="#161616" stroke-width="1.2" stroke-linejoin="round"/>
<path d="M1473.3 316 L1478.8 320.9 L1552.2 320.9 L1558.6 333 L1552.2 345.4 L1478.8 345.4 L1473.3 350" fill="none" stroke="#161616" stroke-width="1.8" stroke-linejoin="round"/>
<line x1="1478.8" y1="320.9" x2="1478.8" y2="345.4" stroke="#161616" stroke-width="1.2"/>
<line x1="1552.2" y1="320.9" x2="1552.2" y2="345.4" stroke="#161616" stroke-width="1.2"/>
<path d="M1559.7 364 L1670 364 L1677.6 371.4 L1677.6 386.6 L1657.4 407.2 L1657.4 431.9 L1677.6 449.8 L1677.6 460.6" fill="none" stroke="#161616" stroke-width="2.1" stroke-linejoin="round"/>
<path d="M1559.7 366.86 L1668.57 366.86 L1674.85 372.66 L1674.85 385.55 L1654.51 405.94 L1654.51 432.61 L1674.47 450.68 L1674.47 460.6" fill="none" stroke="#161616" stroke-width="1.35" stroke-linejoin="round"/>
<path d="M1559.7 369.63 L1667.19 369.63 L1672.17 373.88 L1672.17 384.52 L1651.71 404.72 L1651.71 433.31 L1671.44 451.54 L1671.44 460.6" fill="none" stroke="#161616" stroke-width="1.35" stroke-linejoin="round"/>
<path d="M1559.7 372.4 L1665.8 372.4 L1669.5 375.1 L1669.5 383.5 L1648.9 403.5 L1648.9 434 L1668.4 452.4 L1668.4 460.6" fill="none" stroke="#161616" stroke-width="2.1" stroke-linejoin="round"/>
<path d="M1560.6 372.4 L1557.4 375.6 L1557.4 383.5 L1577.3 403.5 L1577.3 434 L1558.4 453 L1558.4 460.6" fill="none" stroke="#161616" stroke-width="2.3" stroke-linejoin="round"/>
<path d="M1555.6 385.1 L1575.3 404.3 L1575.3 433.2 L1557.4 450.8" fill="none" stroke="#161616" stroke-width="2.2" stroke-linejoin="round"/>
<path d="M1572.6 408.6 L1572.6 429.6" fill="none" stroke="#161616" stroke-width="1.2" stroke-linejoin="round"/>
<path d="M1560.2 364 Q1551.2 364.6 1550.5 374.6 L1550.5 381.6" fill="none" stroke="#161616" stroke-width="2.1" stroke-linejoin="round"/>
<path d="M1560.2 368.2 Q1554.8 368.6 1553.9 375.6 L1553.9 382.6" fill="none" stroke="#161616" stroke-width="1.1" stroke-linejoin="round"/>
<circle cx="1550.9" cy="384.8" r="2.7" fill="none" stroke="#161616" stroke-width="1.7"/>
<circle cx="1550.9" cy="452.6" r="2.7" fill="none" stroke="#161616" stroke-width="1.7"/>
<line x1="1557.2" y1="381.6" x2="1557.2" y2="387.6" stroke="#161616" stroke-width="2"/>
<path d="M1557.7 459.6 L1557.7 454.6 L1553.2 455.6" fill="none" stroke="#161616" stroke-width="2" stroke-linejoin="round"/>
<rect x="-10.5" y="-6.5" width="21" height="13" fill="#fff" stroke="#161616" stroke-width="1.7" rx="2.2" transform="translate(1559.3 400.2) rotate(45)"/>
<rect x="-10.5" y="-6.5" width="21" height="13" fill="#fff" stroke="#161616" stroke-width="1.7" rx="2.2" transform="translate(1559.3 437.2) rotate(-45)"/>
<path d="M1573.1 404.5 L1564.7 413 L1568.4 418.2 L1564.7 423.5 L1573.1 431.9" fill="none" stroke="#161616" stroke-width="1.8" stroke-linejoin="round"/>
<circle cx="1701.5" cy="352.4" r="19.9" fill="#fff" stroke="#161616" stroke-width="1.5"/>
<circle cx="1701.5" cy="352.4" r="17.9" fill="none" stroke="#161616" stroke-width="1.1"/>
<path d="M1708.5 352.4 L1705 358.46 L1698 358.46 L1694.5 352.4 L1698 346.34 L1705 346.34 Z" fill="none" stroke="#161616" stroke-width="1.3" stroke-linejoin="round"/>
<line x1="1701.5" y1="324.4" x2="1701.5" y2="331.4" stroke="#161616" stroke-width="1.08"/>
<line x1="1701.5" y1="373.4" x2="1701.5" y2="380.4" stroke="#161616" stroke-width="1.08"/>
<line x1="1673.5" y1="352.4" x2="1680.5" y2="352.4" stroke="#161616" stroke-width="1.08"/>
<line x1="1722.5" y1="352.4" x2="1729.5" y2="352.4" stroke="#161616" stroke-width="1.08"/>
<line x1="1701.5" y1="343.9" x2="1701.5" y2="360.9" stroke="#161616" stroke-width="1.08"/>
<line x1="1693" y1="352.4" x2="1710" y2="352.4" stroke="#161616" stroke-width="1.08"/>
<circle cx="1662.4" cy="333.2" r="7.2" fill="#fff" stroke="#161616" stroke-width="2.2"/>
<circle cx="1613.1" cy="342.9" r="15.2" fill="#fff" stroke="#161616" stroke-width="1.6"/>
<circle cx="1613.1" cy="342.9" r="13.2" fill="none" stroke="#161616" stroke-width="1"/>
<circle cx="1613.1" cy="342.9" r="6.5" fill="none" stroke="#161616" stroke-width="2.7"/>
<line x1="1608.6" y1="342.9" x2="1617.6" y2="342.9" stroke="#161616" stroke-width="1.08"/>
<line x1="1613.1" y1="338.4" x2="1613.1" y2="347.4" stroke="#161616" stroke-width="1.08"/>
<line x1="1591.1" y1="342.9" x2="1596.6" y2="342.9" stroke="#161616" stroke-width="1.08"/>
<line x1="1629.6" y1="342.9" x2="1635.1" y2="342.9" stroke="#161616" stroke-width="1.08"/>
<circle cx="1717.7" cy="419.2" r="8.9" fill="#fff" stroke="#161616" stroke-width="1.4"/>
<circle cx="1717.7" cy="419.2" r="5.2" fill="none" stroke="#161616" stroke-width="1.2"/>
<path d="M1721 419.2 L1719.26 420.1 L1719.35 422.06 L1717.7 421 L1716.05 422.06 L1716.14 420.1 L1714.4 419.2 L1716.14 418.3 L1716.05 416.34 L1717.7 417.4 L1719.35 416.34 L1719.26 418.3 Z" fill="none" stroke="#161616" stroke-width="1.08" stroke-linejoin="round"/>
<text transform="translate(1661.48 425) scale(0.9244 1)" font-size="15.27" fill="#161616" font-weight="bold">MR 25</text>
<circle cx="1521" cy="399" r="14.7" fill="#fff" stroke="#161616" stroke-width="1.8"/>
<rect x="-8.4" y="-8.4" width="16.8" height="16.8" fill="none" stroke="#161616" stroke-width="1.9" rx="2.6" transform="translate(1521 399) rotate(45)"/>
<rect x="-7.2" y="-7.2" width="14.4" height="14.4" fill="none" stroke="#444" stroke-width="0.7" rx="2.2" transform="translate(1521 399) rotate(45)"/>
<line x1="1499" y1="399" x2="1505.5" y2="399" stroke="#161616" stroke-width="1.08"/>
<line x1="1536.5" y1="399" x2="1543" y2="399" stroke="#161616" stroke-width="1.08"/>
<line x1="1521" y1="377" x2="1521" y2="383.5" stroke="#161616" stroke-width="1.08"/>
<line x1="1521" y1="414.5" x2="1521" y2="421" stroke="#161616" stroke-width="1.08"/>
<line x1="1512" y1="399" x2="1530" y2="399" stroke="#161616" stroke-width="0.96"/>
<line x1="1521" y1="390" x2="1521" y2="408" stroke="#161616" stroke-width="0.96"/>
<line x1="1516" y1="394" x2="1526" y2="404" stroke="#161616" stroke-width="0.84"/>
<line x1="1516" y1="404" x2="1526" y2="394" stroke="#161616" stroke-width="0.84"/>
<circle cx="1521" cy="438.5" r="14.7" fill="#fff" stroke="#161616" stroke-width="1.8"/>
<rect x="-8.4" y="-8.4" width="16.8" height="16.8" fill="none" stroke="#161616" stroke-width="1.9" rx="2.6" transform="translate(1521 438.5) rotate(45)"/>
<rect x="-7.2" y="-7.2" width="14.4" height="14.4" fill="none" stroke="#444" stroke-width="0.7" rx="2.2" transform="translate(1521 438.5) rotate(45)"/>
<line x1="1499" y1="438.5" x2="1505.5" y2="438.5" stroke="#161616" stroke-width="1.08"/>
<line x1="1536.5" y1="438.5" x2="1543" y2="438.5" stroke="#161616" stroke-width="1.08"/>
<line x1="1521" y1="416.5" x2="1521" y2="423" stroke="#161616" stroke-width="1.08"/>
<line x1="1521" y1="454" x2="1521" y2="460.5" stroke="#161616" stroke-width="1.08"/>
<line x1="1512" y1="438.5" x2="1530" y2="438.5" stroke="#161616" stroke-width="0.96"/>
<line x1="1521" y1="429.5" x2="1521" y2="447.5" stroke="#161616" stroke-width="0.96"/>
<line x1="1516" y1="433.5" x2="1526" y2="443.5" stroke="#161616" stroke-width="0.84"/>
<line x1="1516" y1="443.5" x2="1526" y2="433.5" stroke="#161616" stroke-width="0.84"/>
<line x1="1521" y1="421" x2="1521" y2="416" stroke="#161616" stroke-width="1.08"/>
</g>
<g id="d4">
<line x1="398.4" y1="566" x2="398.4" y2="651.9" stroke="#161616" stroke-width="1.2"/>
<line x1="447.1" y1="566" x2="447.1" y2="651.9" stroke="#161616" stroke-width="1.2"/>
<line x1="398.4" y1="575.5" x2="447.1" y2="575.5" stroke="#161616" stroke-width="1.2"/>
<path d="M398.4 575.5 L410.6 572.5 L410.6 578.5 Z" fill="#161616"/>
<path d="M447.1 575.5 L434.9 578.5 L434.9 572.5 Z" fill="#161616"/>
<text transform="translate(409.51 572) scale(0.9535 1)" font-size="26.39" fill="#161616">10</text>
<line x1="408.3" y1="602.9" x2="408.3" y2="651.9" stroke="#161616" stroke-width="1.2"/>
<line x1="437.5" y1="602.9" x2="437.5" y2="651.9" stroke="#161616" stroke-width="1.2"/>
<line x1="385.4" y1="612.5" x2="460.7" y2="612.5" stroke="#161616" stroke-width="1.2"/>
<path d="M408.3 612.5 L396.1 615.5 L396.1 609.5 Z" fill="#161616"/>
<path d="M437.5 612.5 L449.7 609.5 L449.7 615.5 Z" fill="#161616"/>
<text transform="translate(415.59 608.2) scale(1.0651 1)" font-size="26.39" fill="#161616">6</text>
<text y="594.1" font-size="26.98" fill="#161616"><tspan x="122.34" textLength="83.87" lengthAdjust="spacingAndGlyphs">O-ring</tspan> <tspan x="210.86" textLength="117.72" lengthAdjust="spacingAndGlyphs">6,75x1,78</tspan></text>
<path d="M121.3 599.8 L337 599.8 L401 660.6" fill="none" stroke="#161616" stroke-width="1.2" stroke-linejoin="round"/>
<path d="M401 660.6 L388.36 653.28 L393.05 648.35 Z" fill="#161616"/>
<text transform="translate(587.86 593.9) scale(0.9909 1)" font-size="26.98" fill="#161616">M3x4</text>
<path d="M653.3 599.5 L579.8 599.5 L538.9 670.6" fill="none" stroke="#161616" stroke-width="1.2" stroke-linejoin="round"/>
<path d="M538.9 670.6 L543.03 656.6 L548.93 659.99 Z" fill="#161616"/>
<line x1="152.1" y1="676.4" x2="397" y2="676.4" stroke="#161616" stroke-width="1.2"/>
<line x1="152.1" y1="735.3" x2="255" y2="735.3" stroke="#161616" stroke-width="1.2"/>
<line x1="152.1" y1="956.7" x2="255" y2="956.7" stroke="#161616" stroke-width="1.2"/>
<line x1="152.1" y1="1020.3" x2="307" y2="1020.3" stroke="#161616" stroke-width="1.2"/>
<line x1="161.6" y1="676.4" x2="161.6" y2="1020.3" stroke="#161616" stroke-width="1.2"/>
<path d="M161.6 676.4 L164.6 688.6 L158.6 688.6 Z" fill="#161616"/>
<path d="M161.6 735.3 L158.6 723.1 L164.6 723.1 Z" fill="#161616"/>
<path d="M161.6 735.3 L164.6 747.5 L158.6 747.5 Z" fill="#161616"/>
<path d="M161.6 956.7 L158.6 944.5 L164.6 944.5 Z" fill="#161616"/>
<path d="M161.6 956.7 L164.6 968.9 L158.6 968.9 Z" fill="#161616"/>
<path d="M161.6 1020.3 L158.6 1008.1 L164.6 1008.1 Z" fill="#161616"/>
<text transform="translate(158.5 725.21) rotate(-90) scale(1.0662 1)" font-size="26.39" fill="#161616">C7</text>
<text transform="translate(159.2 860.87) rotate(-90) scale(0.8871 1)" font-size="26.39" fill="#161616">L1</text>
<text transform="translate(158.5 1004.95) rotate(-90) scale(0.9473 1)" font-size="26.39" fill="#161616">C4</text>
<line x1="199.2" y1="747.9" x2="400" y2="747.9" stroke="#161616" stroke-width="1.2"/>
<line x1="199.2" y1="944.2" x2="400" y2="944.2" stroke="#161616" stroke-width="1.2"/>
<line x1="208.4" y1="747.9" x2="208.4" y2="944.2" stroke="#161616" stroke-width="1.2"/>
<path d="M208.4 747.9 L211.4 760.1 L205.4 760.1 Z" fill="#161616"/>
<path d="M208.4 944.2 L205.4 932 L211.4 932 Z" fill="#161616"/>
<text transform="translate(205.8 861.13) rotate(-90) scale(1.0066 1)" font-size="26.39" fill="#161616">L2</text>
<path d="M228.8 833.4 L228.8 859 L250.9 846.2 Z" fill="#1b1b1b"/>
<line x1="589.6" y1="698.7" x2="653.8" y2="698.7" stroke="#161616" stroke-width="1.2"/>
<line x1="589.6" y1="993.5" x2="653.8" y2="993.5" stroke="#161616" stroke-width="1.2"/>
<line x1="644.4" y1="698.7" x2="644.4" y2="993.5" stroke="#161616" stroke-width="1.2"/>
<path d="M644.4 698.7 L647.4 710.9 L641.4 710.9 Z" fill="#161616"/>
<path d="M644.4 993.5 L641.4 981.3 L647.4 981.3 Z" fill="#161616"/>
<text transform="translate(640.8 860.77) rotate(-90) scale(0.9785 1)" font-size="26.39" fill="#161616">L6</text>
<line x1="474.3" y1="651.7" x2="539" y2="651.7" stroke="#777" stroke-width="1.08" stroke-dasharray="11 5"/>
<line x1="539" y1="651.7" x2="700.2" y2="651.7" stroke="#161616" stroke-width="1.2"/>
<line x1="474.3" y1="1040.4" x2="539" y2="1040.4" stroke="#777" stroke-width="1.08" stroke-dasharray="11 5"/>
<line x1="539" y1="1040.4" x2="700.2" y2="1040.4" stroke="#161616" stroke-width="1.2"/>
<line x1="690.1" y1="651.7" x2="690.1" y2="1040.4" stroke="#161616" stroke-width="1.2"/>
<path d="M690.1 651.7 L693.1 663.9 L687.1 663.9 Z" fill="#161616"/>
<path d="M690.1 1040.4 L687.1 1028.2 L693.1 1028.2 Z" fill="#161616"/>
<text transform="translate(687.2 860.69) rotate(-90) scale(0.9432 1)" font-size="26.39" fill="#161616">La</text>
<line x1="534.3" y1="631.5" x2="743.3" y2="631.5" stroke="#161616" stroke-width="1.2"/>
<line x1="538.7" y1="1060.3" x2="743.3" y2="1060.3" stroke="#161616" stroke-width="1.2"/>
<line x1="733.4" y1="631.5" x2="733.4" y2="1060.3" stroke="#161616" stroke-width="1.2"/>
<path d="M733.4 631.5 L736.4 643.7 L730.4 643.7 Z" fill="#161616"/>
<path d="M733.4 1060.3 L730.4 1048.1 L736.4 1048.1 Z" fill="#161616"/>
<text transform="translate(730.5 853.69) rotate(-90) scale(0.9878 1)" font-size="26.39" fill="#161616">L</text>
<line x1="307" y1="1054" x2="307" y2="1096.6" stroke="#161616" stroke-width="1.2"/>
<line x1="538.8" y1="1054" x2="538.8" y2="1096.6" stroke="#161616" stroke-width="1.2"/>
<line x1="307" y1="1086.7" x2="538.8" y2="1086.7" stroke="#161616" stroke-width="1.2"/>
<path d="M307 1086.7 L319.2 1083.7 L319.2 1089.7 Z" fill="#161616"/>
<path d="M538.8 1086.7 L526.6 1089.7 L526.6 1083.7 Z" fill="#161616"/>
<text transform="translate(408.1 1084.2) scale(1.0056 1)" font-size="26.39" fill="#161616">47</text>
<path d="M305.4 698.8 L255.5 698.8 L250.9 703.5 L250.9 989 L255.5 993.5 L305.4 993.5" fill="none" stroke="#161616" stroke-width="2" stroke-linejoin="round"/>
<path d="M540.6 698.8 L590.2 698.8 L594.8 703.5 L594.8 989 L590.2 993.5 L540.6 993.5" fill="none" stroke="#161616" stroke-width="2" stroke-linejoin="round"/>
<path d="M305.4 704 L255.6 704 L255.6 988.7 L305.4 988.7" fill="none" stroke="#161616" stroke-width="1.8" stroke-linejoin="round"/>
<path d="M540.6 704 L590.4 704 L590.4 988.7 L540.6 988.7" fill="none" stroke="#161616" stroke-width="1.8" stroke-linejoin="round"/>
<line x1="305.4" y1="698.8" x2="305.4" y2="705.9" stroke="#161616" stroke-width="2"/>
<line x1="540.6" y1="698.8" x2="540.6" y2="705.9" stroke="#161616" stroke-width="2"/>
<line x1="305.4" y1="993.5" x2="305.4" y2="986.4" stroke="#161616" stroke-width="2"/>
<line x1="540.6" y1="993.5" x2="540.6" y2="986.4" stroke="#161616" stroke-width="2"/>
<line x1="317.2" y1="705.9" x2="317.2" y2="986.4" stroke="#161616" stroke-width="1.9"/>
<line x1="323.1" y1="705.9" x2="323.1" y2="986.4" stroke="#161616" stroke-width="1.9"/>
<line x1="386" y1="705.9" x2="386" y2="986.4" stroke="#161616" stroke-width="1.9"/>
<line x1="391" y1="705.9" x2="391" y2="986.4" stroke="#161616" stroke-width="1.9"/>
<line x1="454.5" y1="705.9" x2="454.5" y2="986.4" stroke="#161616" stroke-width="1.9"/>
<line x1="460.8" y1="705.9" x2="460.8" y2="986.4" stroke="#161616" stroke-width="1.9"/>
<line x1="523.7" y1="705.9" x2="523.7" y2="986.4" stroke="#161616" stroke-width="1.9"/>
<line x1="529.5" y1="705.9" x2="529.5" y2="986.4" stroke="#161616" stroke-width="1.9"/>
<path d="M307 705.9 L307 638.1 L539 638.1 L539 705.9" fill="none" stroke="#161616" stroke-width="2" stroke-linejoin="miter"/>
<line x1="307" y1="642.4" x2="539" y2="642.4" stroke="#161616" stroke-width="1.7"/>
<line x1="307" y1="705.9" x2="539" y2="705.9" stroke="#161616" stroke-width="2"/>
<path d="M309.3 638.1 Q310.8 631.3 314.3 631.3 L321.7 631.3 Q325.7 631.3 326.7 638.1" fill="#fff" stroke="#161616" stroke-width="1.4" stroke-linejoin="round"/>
<path d="M519.7 638.1 Q521.2 631.3 524.7 631.3 L531.7 631.3 Q535.7 631.3 536.7 638.1" fill="#fff" stroke="#161616" stroke-width="1.4" stroke-linejoin="round"/>
<line x1="318" y1="636.9" x2="351" y2="636.9" stroke="#161616" stroke-width="2.2" stroke-linecap="round"/>
<line x1="495" y1="636.9" x2="528" y2="636.9" stroke="#161616" stroke-width="2.2" stroke-linecap="round"/>
<path d="M307 986.4 L307 1054.3 L539 1054.3 L539 986.4" fill="none" stroke="#161616" stroke-width="2" stroke-linejoin="miter"/>
<line x1="307" y1="1049.8" x2="539" y2="1049.8" stroke="#161616" stroke-width="1.7"/>
<line x1="307" y1="986.4" x2="539" y2="986.4" stroke="#161616" stroke-width="2"/>
<path d="M309.3 1054.3 Q310.8 1060.9 314.3 1060.9 L321.7 1060.9 Q325.7 1060.9 326.7 1054.3" fill="#fff" stroke="#161616" stroke-width="1.4" stroke-linejoin="round"/>
<path d="M519.7 1054.3 Q521.2 1060.9 524.7 1060.9 L531.7 1060.9 Q535.7 1060.9 536.7 1054.3" fill="#fff" stroke="#161616" stroke-width="1.4" stroke-linejoin="round"/>
<line x1="318" y1="1055.5" x2="351" y2="1055.5" stroke="#161616" stroke-width="2.2" stroke-linecap="round"/>
<line x1="495" y1="1055.5" x2="528" y2="1055.5" stroke="#161616" stroke-width="2.2" stroke-linecap="round"/>
<line x1="308.5" y1="671.3" x2="333.8" y2="671.3" stroke="#161616" stroke-width="1.2" stroke-dasharray="10 5"/>
<line x1="513" y1="671.3" x2="539" y2="671.3" stroke="#161616" stroke-width="1.2" stroke-dasharray="10 5"/>
<line x1="308.5" y1="1020.3" x2="333.8" y2="1020.3" stroke="#161616" stroke-width="1.2" stroke-dasharray="10 5"/>
<line x1="513" y1="1020.3" x2="539" y2="1020.3" stroke="#161616" stroke-width="1.2" stroke-dasharray="10 5"/>
<path d="M390.9 705.9 L393.1 676.4 A30 30 0 0 1 453.1 676.4 L455.3 705.9" fill="#fff" stroke="#161616" stroke-width="1.6" stroke-linejoin="round"/>
<circle cx="423.1" cy="676.4" r="19.5" fill="none" stroke="#1b1b1b" stroke-width="11.2"/>
<circle cx="423.1" cy="676.4" r="5.3" fill="none" stroke="#161616" stroke-width="1.8"/>
<line x1="390.1" y1="676.4" x2="456.1" y2="676.4" stroke="#161616" stroke-width="1.08"/>
<line x1="423.1" y1="644.4" x2="423.1" y2="709.4" stroke="#161616" stroke-width="1.08"/>
<path d="M390.9 986.4 L393.1 1015.6 A30 30 0 0 0 453.1 1015.6 L455.3 986.4" fill="#fff" stroke="#161616" stroke-width="1.6" stroke-linejoin="round"/>
<circle cx="423.1" cy="1015.6" r="19.5" fill="none" stroke="#1b1b1b" stroke-width="11.2"/>
<circle cx="423.1" cy="1015.6" r="5.3" fill="none" stroke="#161616" stroke-width="1.8"/>
<line x1="390.1" y1="1015.6" x2="456.1" y2="1015.6" stroke="#161616" stroke-width="1.08"/>
<line x1="423.1" y1="1047.6" x2="423.1" y2="982.6" stroke="#161616" stroke-width="1.08"/>
<circle cx="282.5" cy="735.3" r="16.6" fill="#fff" stroke="#161616" stroke-width="2"/>
<path d="M279.08 715.9 A19.7 19.7 0 1 0 302.2 736.3" fill="none" stroke="#161616" stroke-width="1.2" stroke-linejoin="round"/>
<line x1="273.04" y1="735.3" x2="291.96" y2="735.3" stroke="#161616" stroke-width="1.08"/>
<line x1="282.5" y1="725.84" x2="282.5" y2="744.76" stroke="#161616" stroke-width="1.08"/>
<line x1="255.1" y1="735.3" x2="265.1" y2="735.3" stroke="#161616" stroke-width="1.08"/>
<line x1="299.9" y1="735.3" x2="309.9" y2="735.3" stroke="#161616" stroke-width="1.08"/>
<line x1="282.5" y1="707.9" x2="282.5" y2="717.9" stroke="#161616" stroke-width="1.08"/>
<line x1="282.5" y1="752.7" x2="282.5" y2="762.7" stroke="#161616" stroke-width="1.08"/>
<circle cx="563.2" cy="735.3" r="16.6" fill="#fff" stroke="#161616" stroke-width="2"/>
<path d="M559.78 715.9 A19.7 19.7 0 1 0 582.9 736.3" fill="none" stroke="#161616" stroke-width="1.2" stroke-linejoin="round"/>
<line x1="553.74" y1="735.3" x2="572.66" y2="735.3" stroke="#161616" stroke-width="1.08"/>
<line x1="563.2" y1="725.84" x2="563.2" y2="744.76" stroke="#161616" stroke-width="1.08"/>
<line x1="535.8" y1="735.3" x2="545.8" y2="735.3" stroke="#161616" stroke-width="1.08"/>
<line x1="580.6" y1="735.3" x2="590.6" y2="735.3" stroke="#161616" stroke-width="1.08"/>
<line x1="563.2" y1="707.9" x2="563.2" y2="717.9" stroke="#161616" stroke-width="1.08"/>
<line x1="563.2" y1="752.7" x2="563.2" y2="762.7" stroke="#161616" stroke-width="1.08"/>
<circle cx="282.5" cy="956.7" r="16.6" fill="#fff" stroke="#161616" stroke-width="2"/>
<path d="M279.08 937.3 A19.7 19.7 0 1 0 302.2 957.7" fill="none" stroke="#161616" stroke-width="1.2" stroke-linejoin="round"/>
<line x1="273.04" y1="956.7" x2="291.96" y2="956.7" stroke="#161616" stroke-width="1.08"/>
<line x1="282.5" y1="947.24" x2="282.5" y2="966.16" stroke="#161616" stroke-width="1.08"/>
<line x1="255.1" y1="956.7" x2="265.1" y2="956.7" stroke="#161616" stroke-width="1.08"/>
<line x1="299.9" y1="956.7" x2="309.9" y2="956.7" stroke="#161616" stroke-width="1.08"/>
<line x1="282.5" y1="929.3" x2="282.5" y2="939.3" stroke="#161616" stroke-width="1.08"/>
<line x1="282.5" y1="974.1" x2="282.5" y2="984.1" stroke="#161616" stroke-width="1.08"/>
<circle cx="563.2" cy="956.7" r="16.6" fill="#fff" stroke="#161616" stroke-width="2"/>
<path d="M559.78 937.3 A19.7 19.7 0 1 0 582.9 957.7" fill="none" stroke="#161616" stroke-width="1.2" stroke-linejoin="round"/>
<line x1="553.74" y1="956.7" x2="572.66" y2="956.7" stroke="#161616" stroke-width="1.08"/>
<line x1="563.2" y1="947.24" x2="563.2" y2="966.16" stroke="#161616" stroke-width="1.08"/>
<line x1="535.8" y1="956.7" x2="545.8" y2="956.7" stroke="#161616" stroke-width="1.08"/>
<line x1="580.6" y1="956.7" x2="590.6" y2="956.7" stroke="#161616" stroke-width="1.08"/>
<line x1="563.2" y1="929.3" x2="563.2" y2="939.3" stroke="#161616" stroke-width="1.08"/>
<line x1="563.2" y1="974.1" x2="563.2" y2="984.1" stroke="#161616" stroke-width="1.08"/>
<circle cx="423.1" cy="747.9" r="16.6" fill="#fff" stroke="#161616" stroke-width="2"/>
<path d="M419.68 728.5 A19.7 19.7 0 1 0 442.8 748.9" fill="none" stroke="#161616" stroke-width="1.2" stroke-linejoin="round"/>
<line x1="413.64" y1="747.9" x2="432.56" y2="747.9" stroke="#161616" stroke-width="1.08"/>
<line x1="423.1" y1="738.44" x2="423.1" y2="757.36" stroke="#161616" stroke-width="1.08"/>
<line x1="395.7" y1="747.9" x2="405.7" y2="747.9" stroke="#161616" stroke-width="1.08"/>
<line x1="440.5" y1="747.9" x2="450.5" y2="747.9" stroke="#161616" stroke-width="1.08"/>
<line x1="423.1" y1="720.5" x2="423.1" y2="730.5" stroke="#161616" stroke-width="1.08"/>
<line x1="423.1" y1="765.3" x2="423.1" y2="775.3" stroke="#161616" stroke-width="1.08"/>
<circle cx="423.1" cy="944.2" r="16.6" fill="#fff" stroke="#161616" stroke-width="2"/>
<path d="M419.68 924.8 A19.7 19.7 0 1 0 442.8 945.2" fill="none" stroke="#161616" stroke-width="1.2" stroke-linejoin="round"/>
<line x1="413.64" y1="944.2" x2="432.56" y2="944.2" stroke="#161616" stroke-width="1.08"/>
<line x1="423.1" y1="934.74" x2="423.1" y2="953.66" stroke="#161616" stroke-width="1.08"/>
<line x1="395.7" y1="944.2" x2="405.7" y2="944.2" stroke="#161616" stroke-width="1.08"/>
<line x1="440.5" y1="944.2" x2="450.5" y2="944.2" stroke="#161616" stroke-width="1.08"/>
<line x1="423.1" y1="916.8" x2="423.1" y2="926.8" stroke="#161616" stroke-width="1.08"/>
<line x1="423.1" y1="961.6" x2="423.1" y2="971.6" stroke="#161616" stroke-width="1.08"/>
</g>
<g id="d5">
<line x1="1004.5" y1="557" x2="1004.5" y2="646.1" stroke="#161616" stroke-width="1.2"/>
<line x1="1053.7" y1="557" x2="1053.7" y2="646.1" stroke="#161616" stroke-width="1.2"/>
<line x1="1004.5" y1="567" x2="1053.7" y2="567" stroke="#161616" stroke-width="1.2"/>
<path d="M1004.5 567 L1016.7 564 L1016.7 570 Z" fill="#161616"/>
<path d="M1053.7 567 L1041.5 570 L1041.5 564 Z" fill="#161616"/>
<text transform="translate(1014.85 564.3) scale(0.9839 1)" font-size="26.39" fill="#161616">10</text>
<line x1="1014.3" y1="590" x2="1014.3" y2="646.1" stroke="#161616" stroke-width="1.2"/>
<line x1="1043.8" y1="590" x2="1043.8" y2="646.1" stroke="#161616" stroke-width="1.2"/>
<line x1="991.3" y1="599.8" x2="1067" y2="599.8" stroke="#161616" stroke-width="1.2"/>
<path d="M1014.3 599.8 L1002.1 602.8 L1002.1 596.8 Z" fill="#161616"/>
<path d="M1043.8 599.8 L1056 596.8 L1056 602.8 Z" fill="#161616"/>
<text transform="translate(1021.17 595.5) scale(1.0815 1)" font-size="26.39" fill="#161616">6</text>
<text y="588" font-size="26.54" fill="#161616"><tspan x="732.56" textLength="83.04" lengthAdjust="spacingAndGlyphs">O-ring</tspan> <tspan x="821.87" textLength="116.7" lengthAdjust="spacingAndGlyphs">6,75x1,78</tspan></text>
<path d="M731.8 593.7 L948.3 593.7 L1009.1 653.7" fill="none" stroke="#161616" stroke-width="1.2" stroke-linejoin="round"/>
<path d="M1009.1 653.7 L996.6 646.15 L1001.38 641.31 Z" fill="#161616"/>
<text transform="translate(1193.74 589.4) scale(1.0004 1)" font-size="26.98" fill="#161616">M3x4</text>
<path d="M1259.9 594.5 L1185.6 594.5 L1145.5 664.8" fill="none" stroke="#161616" stroke-width="1.2" stroke-linejoin="round"/>
<path d="M1145.5 664.8 L1149.58 650.78 L1155.49 654.15 Z" fill="#161616"/>
<line x1="840.1" y1="670.6" x2="1003" y2="670.6" stroke="#161616" stroke-width="1.2"/>
<line x1="839.7" y1="753.9" x2="925" y2="753.9" stroke="#161616" stroke-width="1.2"/>
<line x1="839.7" y1="926.3" x2="925" y2="926.3" stroke="#161616" stroke-width="1.2"/>
<line x1="839.7" y1="1014.8" x2="913.2" y2="1014.8" stroke="#161616" stroke-width="1.2"/>
<line x1="849.3" y1="670.6" x2="849.3" y2="1014.8" stroke="#161616" stroke-width="1.2"/>
<path d="M849.3 670.6 L852.3 682.8 L846.3 682.8 Z" fill="#161616"/>
<path d="M849.3 753.9 L846.3 741.7 L852.3 741.7 Z" fill="#161616"/>
<path d="M849.3 753.9 L852.3 766.1 L846.3 766.1 Z" fill="#161616"/>
<path d="M849.3 926.3 L846.3 914.1 L852.3 914.1 Z" fill="#161616"/>
<path d="M849.3 926.3 L852.3 938.5 L846.3 938.5 Z" fill="#161616"/>
<path d="M849.3 1014.8 L846.3 1002.6 L852.3 1002.6 Z" fill="#161616"/>
<text transform="translate(846 728.71) rotate(-90) scale(0.9891 1)" font-size="26.39" fill="#161616">C7</text>
<text transform="translate(846.9 855.66) rotate(-90) scale(0.8832 1)" font-size="26.39" fill="#161616">L1</text>
<text transform="translate(846 987.88) rotate(-90) scale(0.9726 1)" font-size="26.39" fill="#161616">C4</text>
<path d="M889.2 827.7 L889.2 853.3 L910.8 840.5 Z" fill="#1b1b1b"/>
<line x1="1145.3" y1="700.3" x2="1205" y2="700.3" stroke="#161616" stroke-width="1.2"/>
<line x1="1145.3" y1="980.3" x2="1205" y2="980.3" stroke="#161616" stroke-width="1.2"/>
<line x1="1195.3" y1="700.3" x2="1195.3" y2="980.3" stroke="#161616" stroke-width="1.2"/>
<path d="M1195.3 700.3 L1198.3 712.5 L1192.3 712.5 Z" fill="#161616"/>
<path d="M1195.3 980.3 L1192.3 968.1 L1198.3 968.1 Z" fill="#161616"/>
<text transform="translate(1192.1 855.61) rotate(-90) scale(1.0015 1)" font-size="26.39" fill="#161616">L6</text>
<line x1="1080.6" y1="646.3" x2="1145.3" y2="646.3" stroke="#777" stroke-width="1.08" stroke-dasharray="11 5"/>
<line x1="1145.3" y1="646.3" x2="1248" y2="646.3" stroke="#161616" stroke-width="1.2"/>
<line x1="1080.6" y1="1034.5" x2="1145.3" y2="1034.5" stroke="#777" stroke-width="1.08" stroke-dasharray="11 5"/>
<line x1="1145.3" y1="1034.5" x2="1248" y2="1034.5" stroke="#161616" stroke-width="1.2"/>
<line x1="1238.5" y1="646.3" x2="1238.5" y2="1034.5" stroke="#161616" stroke-width="1.2"/>
<path d="M1238.5 646.3 L1241.5 658.5 L1235.5 658.5 Z" fill="#161616"/>
<path d="M1238.5 1034.5 L1235.5 1022.3 L1241.5 1022.3 Z" fill="#161616"/>
<text transform="translate(1235.6 855.52) rotate(-90) scale(0.9579 1)" font-size="26.39" fill="#161616">La</text>
<line x1="1140.6" y1="626.1" x2="1288.3" y2="626.1" stroke="#161616" stroke-width="1.2"/>
<line x1="1143" y1="1054.9" x2="1288.3" y2="1054.9" stroke="#161616" stroke-width="1.2"/>
<line x1="1278.7" y1="626.1" x2="1278.7" y2="1054.9" stroke="#161616" stroke-width="1.2"/>
<path d="M1278.7 626.1 L1281.7 638.3 L1275.7 638.3 Z" fill="#161616"/>
<path d="M1278.7 1054.9 L1275.7 1042.7 L1281.7 1042.7 Z" fill="#161616"/>
<text transform="translate(1275.5 847.6) rotate(-90) scale(0.9452 1)" font-size="26.39" fill="#161616">L</text>
<line x1="913.3" y1="1048" x2="913.3" y2="1095.4" stroke="#161616" stroke-width="1.2"/>
<line x1="1145" y1="1048" x2="1145" y2="1095.4" stroke="#161616" stroke-width="1.2"/>
<line x1="913.3" y1="1085.9" x2="1145" y2="1085.9" stroke="#161616" stroke-width="1.2"/>
<path d="M913.3 1085.9 L925.5 1082.9 L925.5 1088.9 Z" fill="#161616"/>
<path d="M1145 1085.9 L1132.8 1088.9 L1132.8 1082.9 Z" fill="#161616"/>
<text transform="translate(1014.4 1082.6) scale(1.0093 1)" font-size="26.39" fill="#161616">47</text>
<path d="M915 700.2 L1143 700.2 L1147.1 704.7 L1147.1 975.3 L1143 979.8 L915 979.8 L911.1 975.3 L911.1 704.7 Z" fill="none" stroke="#161616" stroke-width="2" stroke-linejoin="round"/>
<path d="M913.5 704.8 L969.2 704.8 L972.5 702.5 L1002.5 702.5 L1005 704.8 L1053.2 704.8 L1056 702.5 L1086 702.5 L1089 704.8 L1144.5 704.8" fill="none" stroke="#161616" stroke-width="1.9" stroke-linejoin="round"/>
<path d="M913.5 975.4 L969.2 975.4 L972.5 977.6 L1002.5 977.6 L1005 975.4 L1053.2 975.4 L1056 977.6 L1086 977.6 L1089 975.4 L1144.5 975.4" fill="none" stroke="#161616" stroke-width="1.9" stroke-linejoin="round"/>
<line x1="918.3" y1="704" x2="918.3" y2="976.5" stroke="#161616" stroke-width="1.9"/>
<line x1="969.2" y1="704" x2="969.2" y2="976.5" stroke="#161616" stroke-width="1.9"/>
<line x1="974.8" y1="704" x2="974.8" y2="976.5" stroke="#161616" stroke-width="1.9"/>
<line x1="1000.1" y1="704" x2="1000.1" y2="976.5" stroke="#161616" stroke-width="1.9"/>
<line x1="1005" y1="704" x2="1005" y2="976.5" stroke="#161616" stroke-width="1.9"/>
<line x1="1053.2" y1="704" x2="1053.2" y2="976.5" stroke="#161616" stroke-width="1.9"/>
<line x1="1058.1" y1="704" x2="1058.1" y2="976.5" stroke="#161616" stroke-width="1.9"/>
<line x1="1083.4" y1="704" x2="1083.4" y2="976.5" stroke="#161616" stroke-width="1.9"/>
<line x1="1089" y1="704" x2="1089" y2="976.5" stroke="#161616" stroke-width="1.9"/>
<line x1="1139.9" y1="704" x2="1139.9" y2="976.5" stroke="#161616" stroke-width="1.9"/>
<path d="M913.4 700.3 L913.4 631.3 L1145.3 631.3 L1145.3 700.3" fill="none" stroke="#161616" stroke-width="2" stroke-linejoin="miter"/>
<line x1="913.4" y1="635.6" x2="1145.3" y2="635.6" stroke="#161616" stroke-width="1.7"/>
<line x1="913.4" y1="700.3" x2="1145.3" y2="700.3" stroke="#161616" stroke-width="2"/>
<path d="M915.7 631.3 Q917.2 626.1 920.7 626.1 L928.1 626.1 Q932.1 626.1 933.1 631.3" fill="#fff" stroke="#161616" stroke-width="1.4" stroke-linejoin="round"/>
<path d="M1126 631.3 Q1127.5 626.1 1131 626.1 L1138 626.1 Q1142 626.1 1143 631.3" fill="#fff" stroke="#161616" stroke-width="1.4" stroke-linejoin="round"/>
<line x1="924.4" y1="630.1" x2="957.4" y2="630.1" stroke="#161616" stroke-width="2.2" stroke-linecap="round"/>
<line x1="1101.3" y1="630.1" x2="1134.3" y2="630.1" stroke="#161616" stroke-width="2.2" stroke-linecap="round"/>
<path d="M913.4 979.8 L913.4 1048.2 L1145.3 1048.2 L1145.3 979.8" fill="none" stroke="#161616" stroke-width="2" stroke-linejoin="miter"/>
<line x1="913.4" y1="1044.2" x2="1145.3" y2="1044.2" stroke="#161616" stroke-width="1.7"/>
<line x1="913.4" y1="979.8" x2="1145.3" y2="979.8" stroke="#161616" stroke-width="2"/>
<path d="M915.7 1048.2 Q917.2 1055 920.7 1055 L928.1 1055 Q932.1 1055 933.1 1048.2" fill="#fff" stroke="#161616" stroke-width="1.4" stroke-linejoin="round"/>
<path d="M1126 1048.2 Q1127.5 1055 1131 1055 L1138 1055 Q1142 1055 1143 1048.2" fill="#fff" stroke="#161616" stroke-width="1.4" stroke-linejoin="round"/>
<line x1="924.4" y1="1049.4" x2="957.4" y2="1049.4" stroke="#161616" stroke-width="2.2" stroke-linecap="round"/>
<line x1="1101.3" y1="1049.4" x2="1134.3" y2="1049.4" stroke="#161616" stroke-width="2.2" stroke-linecap="round"/>
<line x1="914.3" y1="665.6" x2="939.6" y2="665.6" stroke="#161616" stroke-width="1.2" stroke-dasharray="10 5"/>
<line x1="1118.5" y1="665.6" x2="1144" y2="665.6" stroke="#161616" stroke-width="1.2" stroke-dasharray="10 5"/>
<line x1="914.3" y1="1014.8" x2="939.6" y2="1014.8" stroke="#161616" stroke-width="1.2" stroke-dasharray="10 5"/>
<line x1="1118.5" y1="1014.8" x2="1144" y2="1014.8" stroke="#161616" stroke-width="1.2" stroke-dasharray="10 5"/>
<path d="M996.5 700.3 L999.1 670.6 A30 30 0 0 1 1059.1 670.6 L1061.7 700.3" fill="#fff" stroke="#161616" stroke-width="1.6" stroke-linejoin="round"/>
<circle cx="1029.1" cy="670.6" r="19.5" fill="none" stroke="#1b1b1b" stroke-width="11.2"/>
<circle cx="1029.1" cy="670.6" r="5.3" fill="none" stroke="#161616" stroke-width="1.8"/>
<line x1="996.1" y1="670.6" x2="1062.1" y2="670.6" stroke="#161616" stroke-width="1.08"/>
<line x1="1029.1" y1="638.6" x2="1029.1" y2="703.6" stroke="#161616" stroke-width="1.08"/>
<path d="M996.5 979.8 L999.1 1010.3 A30 30 0 0 0 1059.1 1010.3 L1061.7 979.8" fill="#fff" stroke="#161616" stroke-width="1.6" stroke-linejoin="round"/>
<circle cx="1029.1" cy="1010.3" r="19.5" fill="none" stroke="#1b1b1b" stroke-width="11.2"/>
<circle cx="1029.1" cy="1010.3" r="5.3" fill="none" stroke="#161616" stroke-width="1.8"/>
<line x1="996.1" y1="1010.3" x2="1062.1" y2="1010.3" stroke="#161616" stroke-width="1.08"/>
<line x1="1029.1" y1="1042.3" x2="1029.1" y2="977.3" stroke="#161616" stroke-width="1.08"/>
<circle cx="942.9" cy="753.9" r="12.4" fill="#fff" stroke="#161616" stroke-width="1.9"/>
<path d="M945.52 739.03 A15.1 15.1 0 1 1 927.8 754.9" fill="none" stroke="#161616" stroke-width="1.2" stroke-linejoin="round"/>
<line x1="935" y1="753.9" x2="950.8" y2="753.9" stroke="#161616" stroke-width="1.08"/>
<line x1="942.9" y1="746" x2="942.9" y2="761.8" stroke="#161616" stroke-width="1.08"/>
<line x1="920.3" y1="753.9" x2="927.8" y2="753.9" stroke="#161616" stroke-width="1.08"/>
<line x1="958" y1="753.9" x2="965.5" y2="753.9" stroke="#161616" stroke-width="1.08"/>
<line x1="942.9" y1="731.3" x2="942.9" y2="738.8" stroke="#161616" stroke-width="1.08"/>
<line x1="942.9" y1="769" x2="942.9" y2="776.5" stroke="#161616" stroke-width="1.08"/>
<circle cx="942.9" cy="926.3" r="12.4" fill="#fff" stroke="#161616" stroke-width="1.9"/>
<path d="M945.52 911.43 A15.1 15.1 0 1 1 927.8 927.3" fill="none" stroke="#161616" stroke-width="1.2" stroke-linejoin="round"/>
<line x1="935" y1="926.3" x2="950.8" y2="926.3" stroke="#161616" stroke-width="1.08"/>
<line x1="942.9" y1="918.4" x2="942.9" y2="934.2" stroke="#161616" stroke-width="1.08"/>
<line x1="920.3" y1="926.3" x2="927.8" y2="926.3" stroke="#161616" stroke-width="1.08"/>
<line x1="958" y1="926.3" x2="965.5" y2="926.3" stroke="#161616" stroke-width="1.08"/>
<line x1="942.9" y1="903.7" x2="942.9" y2="911.2" stroke="#161616" stroke-width="1.08"/>
<line x1="942.9" y1="941.4" x2="942.9" y2="948.9" stroke="#161616" stroke-width="1.08"/>
<circle cx="1029" cy="753.9" r="12.4" fill="#fff" stroke="#161616" stroke-width="1.9"/>
<path d="M1031.62 739.03 A15.1 15.1 0 1 1 1013.9 754.9" fill="none" stroke="#161616" stroke-width="1.2" stroke-linejoin="round"/>
<line x1="1021.1" y1="753.9" x2="1036.9" y2="753.9" stroke="#161616" stroke-width="1.08"/>
<line x1="1029" y1="746" x2="1029" y2="761.8" stroke="#161616" stroke-width="1.08"/>
<line x1="1006.4" y1="753.9" x2="1013.9" y2="753.9" stroke="#161616" stroke-width="1.08"/>
<line x1="1044.1" y1="753.9" x2="1051.6" y2="753.9" stroke="#161616" stroke-width="1.08"/>
<line x1="1029" y1="731.3" x2="1029" y2="738.8" stroke="#161616" stroke-width="1.08"/>
<line x1="1029" y1="769" x2="1029" y2="776.5" stroke="#161616" stroke-width="1.08"/>
<circle cx="1029" cy="926.3" r="12.4" fill="#fff" stroke="#161616" stroke-width="1.9"/>
<path d="M1031.62 911.43 A15.1 15.1 0 1 1 1013.9 927.3" fill="none" stroke="#161616" stroke-width="1.2" stroke-linejoin="round"/>
<line x1="1021.1" y1="926.3" x2="1036.9" y2="926.3" stroke="#161616" stroke-width="1.08"/>
<line x1="1029" y1="918.4" x2="1029" y2="934.2" stroke="#161616" stroke-width="1.08"/>
<line x1="1006.4" y1="926.3" x2="1013.9" y2="926.3" stroke="#161616" stroke-width="1.08"/>
<line x1="1044.1" y1="926.3" x2="1051.6" y2="926.3" stroke="#161616" stroke-width="1.08"/>
<line x1="1029" y1="903.7" x2="1029" y2="911.2" stroke="#161616" stroke-width="1.08"/>
<line x1="1029" y1="941.4" x2="1029" y2="948.9" stroke="#161616" stroke-width="1.08"/>
<circle cx="1115.1" cy="753.9" r="12.4" fill="#fff" stroke="#161616" stroke-width="1.9"/>
<path d="M1117.72 739.03 A15.1 15.1 0 1 1 1100 754.9" fill="none" stroke="#161616" stroke-width="1.2" stroke-linejoin="round"/>
<line x1="1107.2" y1="753.9" x2="1123" y2="753.9" stroke="#161616" stroke-width="1.08"/>
<line x1="1115.1" y1="746" x2="1115.1" y2="761.8" stroke="#161616" stroke-width="1.08"/>
<line x1="1092.5" y1="753.9" x2="1100" y2="753.9" stroke="#161616" stroke-width="1.08"/>
<line x1="1130.2" y1="753.9" x2="1137.7" y2="753.9" stroke="#161616" stroke-width="1.08"/>
<line x1="1115.1" y1="731.3" x2="1115.1" y2="738.8" stroke="#161616" stroke-width="1.08"/>
<line x1="1115.1" y1="769" x2="1115.1" y2="776.5" stroke="#161616" stroke-width="1.08"/>
<circle cx="1115.1" cy="926.3" r="12.4" fill="#fff" stroke="#161616" stroke-width="1.9"/>
<path d="M1117.72 911.43 A15.1 15.1 0 1 1 1100 927.3" fill="none" stroke="#161616" stroke-width="1.2" stroke-linejoin="round"/>
<line x1="1107.2" y1="926.3" x2="1123" y2="926.3" stroke="#161616" stroke-width="1.08"/>
<line x1="1115.1" y1="918.4" x2="1115.1" y2="934.2" stroke="#161616" stroke-width="1.08"/>
<line x1="1092.5" y1="926.3" x2="1100" y2="926.3" stroke="#161616" stroke-width="1.08"/>
<line x1="1130.2" y1="926.3" x2="1137.7" y2="926.3" stroke="#161616" stroke-width="1.08"/>
<line x1="1115.1" y1="903.7" x2="1115.1" y2="911.2" stroke="#161616" stroke-width="1.08"/>
<line x1="1115.1" y1="941.4" x2="1115.1" y2="948.9" stroke="#161616" stroke-width="1.08"/>
</g>
<g id="d6">
<line x1="1588.4" y1="548.9" x2="1588.4" y2="638.9" stroke="#161616" stroke-width="1.2"/>
<line x1="1638" y1="548.9" x2="1638" y2="638.9" stroke="#161616" stroke-width="1.2"/>
<line x1="1588.4" y1="559" x2="1638" y2="559" stroke="#161616" stroke-width="1.2"/>
<path d="M1588.4 559 L1600.6 556 L1600.6 562 Z" fill="#161616"/>
<path d="M1638 559 L1625.8 562 L1625.8 556 Z" fill="#161616"/>
<text transform="translate(1598.62 555.8) scale(1.0029 1)" font-size="26.39" fill="#161616">10</text>
<line x1="1598.5" y1="582" x2="1598.5" y2="638.9" stroke="#161616" stroke-width="1.2"/>
<line x1="1627.8" y1="582" x2="1627.8" y2="638.9" stroke="#161616" stroke-width="1.2"/>
<line x1="1575.6" y1="591" x2="1650.9" y2="591" stroke="#161616" stroke-width="1.2"/>
<path d="M1598.5 591 L1586.3 594 L1586.3 588 Z" fill="#161616"/>
<path d="M1627.8 591 L1640 588 L1640 594 Z" fill="#161616"/>
<text transform="translate(1604.88 587.4) scale(1.1552 1)" font-size="26.39" fill="#161616">6</text>
<text y="589.1" font-size="26.54" fill="#161616"><tspan x="1309.75" textLength="83.46" lengthAdjust="spacingAndGlyphs">O-ring</tspan> <tspan x="1400.56" textLength="117.31" lengthAdjust="spacingAndGlyphs">6,75x1,78</tspan></text>
<path d="M1303 595 L1519.9 595 L1591 651.9" fill="none" stroke="#161616" stroke-width="1.2" stroke-linejoin="round"/>
<path d="M1591 651.9 L1577.79 645.68 L1582.04 640.37 Z" fill="#161616"/>
<text transform="translate(1768.86 590.2) scale(0.9893 1)" font-size="26.98" fill="#161616">M3x4</text>
<path d="M1834.6 595.2 L1760.7 595.2 L1729.5 659.5" fill="none" stroke="#161616" stroke-width="1.2" stroke-linejoin="round"/>
<path d="M1729.5 659.5 L1732.64 645.24 L1738.76 648.21 Z" fill="#161616"/>
<line x1="1427.4" y1="663.4" x2="1587" y2="663.4" stroke="#161616" stroke-width="1.2"/>
<line x1="1427.5" y1="746.9" x2="1467" y2="746.9" stroke="#161616" stroke-width="1.2"/>
<line x1="1427.5" y1="919" x2="1467" y2="919" stroke="#161616" stroke-width="1.2"/>
<line x1="1427.6" y1="1007.4" x2="1487.7" y2="1007.4" stroke="#161616" stroke-width="1.2"/>
<line x1="1437.3" y1="663.4" x2="1437.3" y2="1007.4" stroke="#161616" stroke-width="1.2"/>
<path d="M1437.3 663.4 L1440.3 675.6 L1434.3 675.6 Z" fill="#161616"/>
<path d="M1437.3 746.9 L1434.3 734.7 L1440.3 734.7 Z" fill="#161616"/>
<path d="M1437.3 746.9 L1440.3 759.1 L1434.3 759.1 Z" fill="#161616"/>
<path d="M1437.3 919 L1434.3 906.8 L1440.3 906.8 Z" fill="#161616"/>
<path d="M1437.3 919 L1440.3 931.2 L1434.3 931.2 Z" fill="#161616"/>
<path d="M1437.3 1007.4 L1434.3 995.2 L1440.3 995.2 Z" fill="#161616"/>
<text transform="translate(1433.8 722.71) rotate(-90) scale(0.9891 1)" font-size="26.39" fill="#161616">C7</text>
<text transform="translate(1434.6 847.41) rotate(-90) scale(0.8562 1)" font-size="26.39" fill="#161616">L1</text>
<text transform="translate(1434 979.42) rotate(-90) scale(0.9221 1)" font-size="26.39" fill="#161616">C4</text>
<path d="M1451.2 820.3 L1451.2 845.6 L1473.3 832.95 Z" fill="#1b1b1b"/>
<line x1="1640" y1="747.1" x2="1805.6" y2="747.1" stroke="#161616" stroke-width="1.2"/>
<line x1="1640" y1="919.3" x2="1805.6" y2="919.3" stroke="#161616" stroke-width="1.2"/>
<line x1="1796.1" y1="747.1" x2="1796.1" y2="919.3" stroke="#161616" stroke-width="1.2"/>
<path d="M1796.1 747.1 L1799.1 759.3 L1793.1 759.3 Z" fill="#161616"/>
<path d="M1796.1 919.3 L1793.1 907.1 L1799.1 907.1 Z" fill="#161616"/>
<text transform="translate(1793 848.78) rotate(-90) scale(1.0336 1)" font-size="26.39" fill="#161616">L2</text>
<line x1="1753.5" y1="693" x2="1852.2" y2="693" stroke="#161616" stroke-width="1.2"/>
<line x1="1753.5" y1="973" x2="1852.2" y2="973" stroke="#161616" stroke-width="1.2"/>
<line x1="1842.5" y1="693" x2="1842.5" y2="973" stroke="#161616" stroke-width="1.2"/>
<path d="M1842.5 693 L1845.5 705.2 L1839.5 705.2 Z" fill="#161616"/>
<path d="M1842.5 973 L1839.5 960.8 L1845.5 960.8 Z" fill="#161616"/>
<text transform="translate(1838.8 848.77) rotate(-90) scale(1.0284 1)" font-size="26.39" fill="#161616">L6</text>
<line x1="1665" y1="638.5" x2="1729.3" y2="638.5" stroke="#777" stroke-width="1.08" stroke-dasharray="11 5"/>
<line x1="1729.3" y1="638.5" x2="1898" y2="638.5" stroke="#161616" stroke-width="1.2"/>
<line x1="1665" y1="1027.2" x2="1729.3" y2="1027.2" stroke="#777" stroke-width="1.08" stroke-dasharray="11 5"/>
<line x1="1729.3" y1="1027.2" x2="1898" y2="1027.2" stroke="#161616" stroke-width="1.2"/>
<line x1="1887.7" y1="638.5" x2="1887.7" y2="1027.2" stroke="#161616" stroke-width="1.2"/>
<path d="M1887.7 638.5 L1890.7 650.7 L1884.7 650.7 Z" fill="#161616"/>
<path d="M1887.7 1027.2 L1884.7 1015 L1890.7 1015 Z" fill="#161616"/>
<text transform="translate(1884.1 848.68) rotate(-90) scale(0.9836 1)" font-size="26.39" fill="#161616">La</text>
<line x1="1724" y1="618.4" x2="1936.8" y2="618.4" stroke="#161616" stroke-width="1.2"/>
<line x1="1727" y1="1047.3" x2="1936.8" y2="1047.3" stroke="#161616" stroke-width="1.2"/>
<line x1="1927.1" y1="618.4" x2="1927.1" y2="1047.3" stroke="#161616" stroke-width="1.2"/>
<path d="M1927.1 618.4 L1930.1 630.6 L1924.1 630.6 Z" fill="#161616"/>
<path d="M1927.1 1047.3 L1924.1 1035.1 L1930.1 1035.1 Z" fill="#161616"/>
<text transform="translate(1923.6 840.82) rotate(-90) scale(1.0048 1)" font-size="26.39" fill="#161616">L</text>
<line x1="1497.5" y1="1041" x2="1497.5" y2="1095.4" stroke="#161616" stroke-width="1.2"/>
<line x1="1728.6" y1="1041" x2="1728.6" y2="1095.4" stroke="#161616" stroke-width="1.2"/>
<line x1="1497.5" y1="1086.4" x2="1728.6" y2="1086.4" stroke="#161616" stroke-width="1.2"/>
<path d="M1497.5 1086.4 L1509.7 1083.4 L1509.7 1089.4 Z" fill="#161616"/>
<path d="M1728.6 1086.4 L1716.4 1089.4 L1716.4 1083.4 Z" fill="#161616"/>
<text transform="translate(1598.29 1084.1) scale(1.0348 1)" font-size="26.39" fill="#161616">47</text>
<path d="M1477.5 692.9 L1749 692.9 L1753.5 697.4 L1753.5 968.5 L1749 973 L1477.5 973 L1473 968.5 L1473 697.4 Z" fill="none" stroke="#161616" stroke-width="2" stroke-linejoin="round"/>
<path d="M1475.5 698.1 L1529.5 698.1 L1533.5 695.5 L1580 695.5 L1583.9 698.1 L1642.5 698.1 L1646.5 695.5 L1693 695.5 L1696.9 698.1 L1751 698.1" fill="none" stroke="#161616" stroke-width="1.9" stroke-linejoin="round"/>
<path d="M1475.5 967.8 L1529.5 967.8 L1533.5 970.4 L1580 970.4 L1583.9 967.8 L1642.5 967.8 L1646.5 970.4 L1693 970.4 L1696.9 967.8 L1751 967.8" fill="none" stroke="#161616" stroke-width="1.9" stroke-linejoin="round"/>
<line x1="1481" y1="697" x2="1481" y2="969" stroke="#161616" stroke-width="1.9"/>
<line x1="1529.5" y1="697" x2="1529.5" y2="969" stroke="#161616" stroke-width="1.9"/>
<line x1="1535.1" y1="697" x2="1535.1" y2="969" stroke="#161616" stroke-width="1.9"/>
<line x1="1578.4" y1="697" x2="1578.4" y2="969" stroke="#161616" stroke-width="1.9"/>
<line x1="1583.9" y1="697" x2="1583.9" y2="969" stroke="#161616" stroke-width="1.9"/>
<line x1="1642.5" y1="697" x2="1642.5" y2="969" stroke="#161616" stroke-width="1.9"/>
<line x1="1648" y1="697" x2="1648" y2="969" stroke="#161616" stroke-width="1.9"/>
<line x1="1691.3" y1="697" x2="1691.3" y2="969" stroke="#161616" stroke-width="1.9"/>
<line x1="1696.9" y1="697" x2="1696.9" y2="969" stroke="#161616" stroke-width="1.9"/>
<line x1="1745.4" y1="697" x2="1745.4" y2="969" stroke="#161616" stroke-width="1.9"/>
<path d="M1497.4 692.6 L1497.4 624.2 L1729.3 624.2 L1729.3 692.6" fill="none" stroke="#161616" stroke-width="2" stroke-linejoin="miter"/>
<line x1="1497.4" y1="628.6" x2="1729.3" y2="628.6" stroke="#161616" stroke-width="1.7"/>
<line x1="1497.4" y1="692.6" x2="1729.3" y2="692.6" stroke="#161616" stroke-width="2"/>
<path d="M1499.7 624.2 Q1501.2 618.3 1504.7 618.3 L1512.1 618.3 Q1516.1 618.3 1517.1 624.2" fill="#fff" stroke="#161616" stroke-width="1.4" stroke-linejoin="round"/>
<path d="M1710 624.2 Q1711.5 618.3 1715 618.3 L1722 618.3 Q1726 618.3 1727 624.2" fill="#fff" stroke="#161616" stroke-width="1.4" stroke-linejoin="round"/>
<line x1="1508.4" y1="623" x2="1541.4" y2="623" stroke="#161616" stroke-width="2.2" stroke-linecap="round"/>
<line x1="1685.3" y1="623" x2="1718.3" y2="623" stroke="#161616" stroke-width="2.2" stroke-linecap="round"/>
<path d="M1497.4 973 L1497.4 1041.4 L1729.3 1041.4 L1729.3 973" fill="none" stroke="#161616" stroke-width="2" stroke-linejoin="miter"/>
<line x1="1497.4" y1="1037.2" x2="1729.3" y2="1037.2" stroke="#161616" stroke-width="1.7"/>
<line x1="1497.4" y1="973" x2="1729.3" y2="973" stroke="#161616" stroke-width="2"/>
<path d="M1499.7 1041.4 Q1501.2 1047.2 1504.7 1047.2 L1512.1 1047.2 Q1516.1 1047.2 1517.1 1041.4" fill="#fff" stroke="#161616" stroke-width="1.4" stroke-linejoin="round"/>
<path d="M1710 1041.4 Q1711.5 1047.2 1715 1047.2 L1722 1047.2 Q1726 1047.2 1727 1041.4" fill="#fff" stroke="#161616" stroke-width="1.4" stroke-linejoin="round"/>
<line x1="1508.4" y1="1042.6" x2="1541.4" y2="1042.6" stroke="#161616" stroke-width="2.2" stroke-linecap="round"/>
<line x1="1685.3" y1="1042.6" x2="1718.3" y2="1042.6" stroke="#161616" stroke-width="2.2" stroke-linecap="round"/>
<line x1="1487.5" y1="658.4" x2="1527" y2="658.4" stroke="#161616" stroke-width="1.2" stroke-dasharray="12 3 2 3"/>
<line x1="1699" y1="658.4" x2="1738.5" y2="658.4" stroke="#161616" stroke-width="1.2" stroke-dasharray="12 3 2 3"/>
<line x1="1487.5" y1="1007.4" x2="1527" y2="1007.4" stroke="#161616" stroke-width="1.2" stroke-dasharray="12 3 2 3"/>
<line x1="1699" y1="1007.4" x2="1738.5" y2="1007.4" stroke="#161616" stroke-width="1.2" stroke-dasharray="12 3 2 3"/>
<path d="M1580.4 692.8 L1583.2 663.4 A30 30 0 0 1 1643.2 663.4 L1646 692.8" fill="#fff" stroke="#161616" stroke-width="1.6" stroke-linejoin="round"/>
<circle cx="1613.2" cy="663.4" r="19.5" fill="none" stroke="#1b1b1b" stroke-width="11.2"/>
<circle cx="1613.2" cy="663.4" r="5.3" fill="none" stroke="#161616" stroke-width="1.8"/>
<line x1="1580.2" y1="663.4" x2="1646.2" y2="663.4" stroke="#161616" stroke-width="1.08"/>
<line x1="1613.2" y1="631.4" x2="1613.2" y2="696.4" stroke="#161616" stroke-width="1.08"/>
<path d="M1580.4 973 L1583.2 1002.7 A30 30 0 0 0 1643.2 1002.7 L1646 973" fill="#fff" stroke="#161616" stroke-width="1.6" stroke-linejoin="round"/>
<circle cx="1613.2" cy="1002.7" r="19.5" fill="none" stroke="#1b1b1b" stroke-width="11.2"/>
<circle cx="1613.2" cy="1002.7" r="5.3" fill="none" stroke="#161616" stroke-width="1.8"/>
<line x1="1580.2" y1="1002.7" x2="1646.2" y2="1002.7" stroke="#161616" stroke-width="1.08"/>
<line x1="1613.2" y1="1034.7" x2="1613.2" y2="969.7" stroke="#161616" stroke-width="1.08"/>
<path d="M1476.6 732.2 L1522.4 732.2 L1522.4 761.6 L1476.6 761.6" fill="none" stroke="#161616" stroke-width="1.1" stroke-linejoin="round" stroke-dasharray="12 4"/>
<path d="M1473.5 729.9 L1480 734.5 L1551.7 734.5 L1558.8 746.9 L1551.7 759.3 L1480 759.3 L1473.5 763.9" fill="none" stroke="#161616" stroke-width="1.1" stroke-linejoin="round" stroke-dasharray="12 4"/>
<line x1="1480" y1="734.5" x2="1480" y2="759.3" stroke="#161616" stroke-width="1.2" stroke-dasharray="12 4"/>
<line x1="1551.7" y1="734.5" x2="1551.7" y2="759.3" stroke="#161616" stroke-width="1.2" stroke-dasharray="12 4"/>
<line x1="1467" y1="746.9" x2="1566" y2="746.9" stroke="#161616" stroke-width="1.08" stroke-dasharray="16 3 2 3"/>
<path d="M1476.6 818.3 L1522.4 818.3 L1522.4 847.7 L1476.6 847.7" fill="none" stroke="#161616" stroke-width="1.1" stroke-linejoin="round" stroke-dasharray="12 4"/>
<path d="M1473.5 816 L1480 820.6 L1551.7 820.6 L1558.8 833 L1551.7 845.4 L1480 845.4 L1473.5 850" fill="none" stroke="#161616" stroke-width="1.1" stroke-linejoin="round" stroke-dasharray="12 4"/>
<line x1="1480" y1="820.6" x2="1480" y2="845.4" stroke="#161616" stroke-width="1.2" stroke-dasharray="12 4"/>
<line x1="1551.7" y1="820.6" x2="1551.7" y2="845.4" stroke="#161616" stroke-width="1.2" stroke-dasharray="12 4"/>
<line x1="1467" y1="833" x2="1566" y2="833" stroke="#161616" stroke-width="1.08" stroke-dasharray="16 3 2 3"/>
<path d="M1476.6 904.3 L1522.4 904.3 L1522.4 933.7 L1476.6 933.7" fill="none" stroke="#161616" stroke-width="1.1" stroke-linejoin="round" stroke-dasharray="12 4"/>
<path d="M1473.5 902 L1480 906.6 L1551.7 906.6 L1558.8 919 L1551.7 931.4 L1480 931.4 L1473.5 936" fill="none" stroke="#161616" stroke-width="1.1" stroke-linejoin="round" stroke-dasharray="12 4"/>
<line x1="1480" y1="906.6" x2="1480" y2="931.4" stroke="#161616" stroke-width="1.2" stroke-dasharray="12 4"/>
<line x1="1551.7" y1="906.6" x2="1551.7" y2="931.4" stroke="#161616" stroke-width="1.2" stroke-dasharray="12 4"/>
<line x1="1467" y1="919" x2="1566" y2="919" stroke="#161616" stroke-width="1.08" stroke-dasharray="16 3 2 3"/>
<circle cx="1613.3" cy="746.9" r="11.8" fill="#fff" stroke="#161616" stroke-width="1.9"/>
<path d="M1615.82 732.62 A14.5 14.5 0 1 1 1598.8 747.9" fill="none" stroke="#161616" stroke-width="1.2" stroke-linejoin="round"/>
<line x1="1613.3" y1="719.9" x2="1613.3" y2="773.9" stroke="#161616" stroke-width="1.08" stroke-dasharray="14 4"/>
<line x1="1585" y1="746.9" x2="1640" y2="746.9" stroke="#161616" stroke-width="1.08" stroke-dasharray="14 4"/>
<circle cx="1613.3" cy="919" r="11.8" fill="#fff" stroke="#161616" stroke-width="1.9"/>
<path d="M1615.82 904.72 A14.5 14.5 0 1 1 1598.8 920" fill="none" stroke="#161616" stroke-width="1.2" stroke-linejoin="round"/>
<line x1="1613.3" y1="892" x2="1613.3" y2="946" stroke="#161616" stroke-width="1.08" stroke-dasharray="14 4"/>
<line x1="1585" y1="919" x2="1640" y2="919" stroke="#161616" stroke-width="1.08" stroke-dasharray="14 4"/>
</g>
<g id="legend">
<path d="M1795.9 1071.6 L1816.5 1071.6 L1806.2 1089.2 Z" fill="#1b1b1b"/>
<text transform="translate(1826.08 1089.4) scale(1.1765 1)" font-size="21.79" fill="#161616">=</text>
<text y="1089.2" font-size="29.06" fill="#161616" stroke="#fff" stroke-width="0.4"><tspan x="1857.26" textLength="115.17" lengthAdjust="spacingAndGlyphs">Locating</tspan> <tspan x="1980.58" textLength="54.75" lengthAdjust="spacingAndGlyphs">side</tspan></text>
</g>
</svg>
</body></html>
